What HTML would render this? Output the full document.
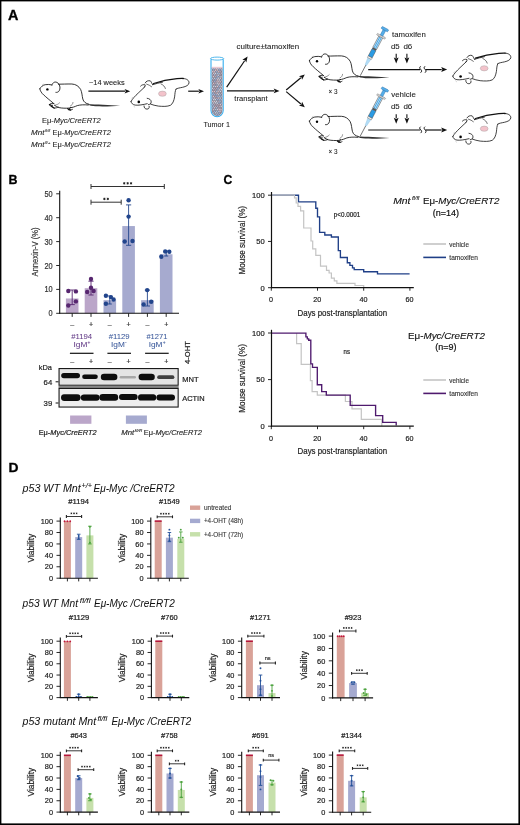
<!DOCTYPE html>
<html><head><meta charset="utf-8"><title>Figure</title>
<style>
html,body{margin:0;padding:0;background:#fff;width:520px;height:825px;overflow:hidden;}
svg{display:block;font-family:"Liberation Sans", sans-serif;opacity:0.999;font-variant-ligatures:none;}
</style></head><body>
<svg width="520" height="825" viewBox="0 0 520 825">
<defs><filter id="bl" x="-20%" y="-60%" width="140%" height="220%"><feGaussianBlur stdDeviation="0.55"/></filter></defs>
<rect x="0" y="0" width="520" height="825" fill="#fff"/>
<rect x="0.00" y="0.00" width="520.00" height="1.40" fill="#000"/>
<rect x="0.00" y="0.00" width="1.40" height="825.00" fill="#000"/>
<rect x="518.40" y="0.00" width="1.60" height="825.00" fill="#000"/>
<rect x="0.00" y="823.40" width="520.00" height="1.60" fill="#000"/>
<text x="8.10" y="19.80" font-size="14" fill="#000" stroke="#000" stroke-width="0.3" font-weight="bold" textLength="10.40" lengthAdjust="spacingAndGlyphs">A</text>
<text x="8.60" y="183.60" font-size="13.5" fill="#000" stroke="#000" stroke-width="0.3" font-weight="bold" textLength="9.00" lengthAdjust="spacingAndGlyphs">B</text>
<text x="223.40" y="183.50" font-size="13.5" fill="#000" stroke="#000" stroke-width="0.3" font-weight="bold" textLength="8.80" lengthAdjust="spacingAndGlyphs">C</text>
<text x="8.60" y="472.00" font-size="13.5" fill="#000" stroke="#000" stroke-width="0.3" font-weight="bold" textLength="10.00" lengthAdjust="spacingAndGlyphs">D</text>
<g transform="translate(39.80,88.80) scale(1.0)" fill="none" stroke="#111" stroke-width="0.85" stroke-linecap="round" stroke-linejoin="round">
<path d="M0,0 C1,-2 3,-3.6 5.4,-4.1 C7.5,-4.5 10,-4.4 12.2,-3.9"/>
<path d="M12.2,-3.6 C12.6,-6.6 15.8,-7.9 18.3,-5.6 C20.6,-3.6 20.6,0.2 19.4,2.0 C18.6,3.3 17.2,3.8 16.1,3.6" fill="#fff"/>
<path d="M18.6,-4.6 C22,-4.6 27,-4.9 32,-4.8 C36,-4.6 39,-2.6 40.8,0.6 C42.2,3.4 42.3,7.2 43.0,10.2 C43.8,13.2 46.0,14.8 49,15.4"/>
<path d="M47.5,15.4 C56,15.6 70,16.0 80.3,16.9 C74,17.5 64,17.8 56,17.5 C52,17.3 49.5,16.6 47.5,15.4 Z" fill="#333" stroke="none"/>
<path d="M48.5,16.2 C44,15.8 40.5,16.0 37.5,16.8 C35,17.8 33,18.8 30.5,18.9 M31.2,18.8 C29.8,19.2 28.2,19.9 29.0,21.0 C30.3,21.6 31.8,21.0 32.6,20.6"/>
<path d="M29.5,19.3 C26,19.6 22,19.4 19.2,18.8 C17.3,18.2 16,17.3 14.8,16.6"/>
<path d="M14.2,14.8 C12.4,14.4 10.6,14.6 9.6,15.8 C9.4,16.8 10.6,17.2 11.8,16.9 M12.6,16.4 C12.2,17.6 12.6,18.8 14.2,19.2 C15.8,19.4 17.2,18.8 18.4,18.4"/>
<path d="M19.8,14.0 C18.6,15.4 16.8,16.2 15.0,16.4" stroke-width="0.45"/>
<path d="M33.2,13.6 C33.0,15.3 32.0,16.6 30.6,17.2" stroke-width="0.45"/>
<path d="M0,0 C0.4,2.2 1.8,4.2 3.8,6.0 C6.5,8.6 10,11.4 13.6,14.4"/>
<path d="M9.6,15.6 l1.6,0.6 M11.4,17.4 l1.6,1.2 M13.2,18.4 l1.2,0.9 M27.8,19.8 l1.4,1.2 M29.6,20.4 l1.2,1.0" stroke-width="1.1"/>
</g>
<circle cx="47.40" cy="89.40" r="1.20" fill="#000"/>
<path d="M42.00,85.20 l1.8,-1.2 M41.40,93.00 l1.6,1.6" stroke="#999" stroke-width="0.5" fill="none"/>
<text x="41.90" y="122.50" font-size="7.2" fill="#222" stroke="#222" stroke-width="0.08" textLength="58.90" lengthAdjust="spacingAndGlyphs">Eμ-<tspan font-style="italic">Myc/CreERT2</tspan></text>
<text x="31.10" y="135.00" font-size="7.2" fill="#222" stroke="#222" stroke-width="0.08" font-style="italic" textLength="13.40" lengthAdjust="spacingAndGlyphs">Mnt</text>
<text x="44.90" y="131.98" font-size="4.4" fill="#222" stroke="#222" stroke-width="0.04" font-style="italic" textLength="5.40" lengthAdjust="spacingAndGlyphs">fl/fl</text>
<text x="52.60" y="135.00" font-size="7.2" fill="#222" stroke="#222" stroke-width="0.08" textLength="58.20" lengthAdjust="spacingAndGlyphs">Eμ-<tspan font-style="italic">Myc/CreERT2</tspan></text>
<text x="31.10" y="147.40" font-size="7.2" fill="#222" stroke="#222" stroke-width="0.08" font-style="italic" textLength="13.40" lengthAdjust="spacingAndGlyphs">Mnt</text>
<text x="44.90" y="144.38" font-size="4.4" fill="#222" stroke="#222" stroke-width="0.04" font-style="italic" textLength="5.40" lengthAdjust="spacingAndGlyphs">fl/+</text>
<text x="52.60" y="147.40" font-size="7.2" fill="#222" stroke="#222" stroke-width="0.08" textLength="58.20" lengthAdjust="spacingAndGlyphs">Eμ-<tspan font-style="italic">Myc/CreERT2</tspan></text>
<text x="89.00" y="85.30" font-size="6.4" fill="#222" stroke="#222" stroke-width="0.08" textLength="35.60" lengthAdjust="spacingAndGlyphs">~14 weeks</text>
<line x1="88.40" y1="91.20" x2="125.10" y2="91.20" stroke="#111" stroke-width="1.2"/>
<polygon points="130.20,91.20 124.60,93.50 125.80,91.20 124.60,88.90" fill="#111"/>
<g transform="translate(131.00,101.50) scale(1.0)" fill="none" stroke="#111" stroke-width="0.8" stroke-linecap="round" stroke-linejoin="round">
<path d="M0,0 C1.2,-2.4 4.2,-5.6 7.2,-8.4 C9.6,-10.6 12.0,-12.8 14.0,-14.8"/>
<path d="M9.6,-15.4 C10.6,-16.6 12.4,-17.2 14.2,-16.6 C14.4,-15.6 13.8,-14.8 13.0,-14.2"/>
<path d="M14.2,-18.6 C15.0,-20.4 17.2,-21.2 19.4,-20.6 C20.4,-19.6 20.6,-18.2 21.8,-16.8"/>
<path d="M15.6,-17.4 C17.4,-16.8 19.2,-16.0 20.6,-14.8" stroke-width="0.6"/>
<path d="M21.6,-16.8 C25,-17.8 28.4,-18.8 31.6,-19.4"/>
<path d="M22.6,-18.0 C30,-20.4 38,-22.0 46,-22.8 C48.5,-23.0 50.5,-23.1 52.3,-23.0" stroke-width="1.3"/>
<path d="M52.3,-23.0 C55.6,-22.8 58.2,-21.2 58.0,-18.6 C57.8,-16.4 55.2,-15.0 51.6,-14.2 C48.8,-13.6 46.4,-13.4 45.0,-12.4"/>
<path d="M45.0,-12.4 C44.0,-10.8 44.0,-7.6 43.6,-4.6 C43.0,-1.0 41.8,2.4 39.4,3.8 C36.4,5.2 31.6,5.0 27.4,4.6 C24.4,4.2 21.6,3.4 19.6,2.6"/>
<path d="M30.0,-17.6 C32.2,-16.6 33.8,-15.0 34.4,-13.0" stroke-width="0.6"/>
<path d="M0,0 C0.3,1.8 1.8,3.2 4.2,3.6 C7.6,4.0 12.0,3.2 16.2,2.2"/>
<path d="M16.2,-3.2 C18.4,-3.0 20.2,-1.6 20.2,0.4 C20.2,2.0 19.0,3.0 17.4,3.2"/>
<path d="M13.0,4.4 C13.0,6.4 14.2,7.6 16.0,7.6 C17.6,7.6 18.6,6.6 18.2,4.8"/>
</g>
<circle cx="138.80" cy="101.90" r="1.30" fill="#000"/>
<ellipse cx="162.40" cy="93.70" rx="3.90" ry="2.60" fill="#f3c3cb" stroke="#999" stroke-width="0.4"/>
<path d="M133.50,106.00 l1.6,1.4 M131.50,98.30 l1.6,-1.2" stroke="#aaa" stroke-width="0.5" fill="none"/>
<line x1="188.20" y1="91.20" x2="198.90" y2="91.20" stroke="#111" stroke-width="1.2"/>
<polygon points="204.00,91.20 198.40,93.50 199.60,91.20 198.40,88.90" fill="#111"/>
<path d="M211.0,59.2 L211.0,110.6 A6.1,6.1 0 0 0 223.2,110.6 L223.2,59.2" fill="#fff" stroke="#35aef0" stroke-width="1.1"/>
<path d="M211.8,67.2 L211.8,110.6 A5.3,5.3 0 0 0 222.4,110.6 L222.4,67.2 Z" fill="#958d99"/>
<circle cx="212.50" cy="68.34" r="0.85" fill="#a9c2ea" stroke="#5a5a66" stroke-width="0.25"/>
<circle cx="214.31" cy="68.39" r="0.85" fill="#a9c2ea" stroke="#5a5a66" stroke-width="0.25"/>
<circle cx="216.46" cy="68.56" r="0.85" fill="#f3d6de" stroke="#5a5a66" stroke-width="0.25"/>
<circle cx="218.25" cy="68.55" r="0.85" fill="#b9d3f2" stroke="#5a5a66" stroke-width="0.25"/>
<circle cx="220.22" cy="68.43" r="0.85" fill="#c9b6c8" stroke="#5a5a66" stroke-width="0.25"/>
<circle cx="213.64" cy="70.01" r="0.85" fill="#b9d3f2" stroke="#5a5a66" stroke-width="0.25"/>
<circle cx="215.62" cy="70.16" r="0.85" fill="#f3d6de" stroke="#5a5a66" stroke-width="0.25"/>
<circle cx="217.45" cy="69.88" r="0.85" fill="#f3d6de" stroke="#5a5a66" stroke-width="0.25"/>
<circle cx="219.30" cy="69.90" r="0.85" fill="#a9c2ea" stroke="#5a5a66" stroke-width="0.25"/>
<circle cx="221.34" cy="69.85" r="0.85" fill="#b9d3f2" stroke="#5a5a66" stroke-width="0.25"/>
<circle cx="212.78" cy="71.57" r="0.85" fill="#f3d6de" stroke="#5a5a66" stroke-width="0.25"/>
<circle cx="214.42" cy="71.88" r="0.85" fill="#f3d6de" stroke="#5a5a66" stroke-width="0.25"/>
<circle cx="216.55" cy="71.75" r="0.85" fill="#a9c2ea" stroke="#5a5a66" stroke-width="0.25"/>
<circle cx="218.48" cy="71.78" r="0.85" fill="#f3d6de" stroke="#5a5a66" stroke-width="0.25"/>
<circle cx="220.12" cy="71.64" r="0.85" fill="#c9b6c8" stroke="#5a5a66" stroke-width="0.25"/>
<circle cx="213.72" cy="73.26" r="0.85" fill="#f3d6de" stroke="#5a5a66" stroke-width="0.25"/>
<circle cx="215.37" cy="73.39" r="0.85" fill="#dfe6f6" stroke="#5a5a66" stroke-width="0.25"/>
<circle cx="217.39" cy="73.43" r="0.85" fill="#b9d3f2" stroke="#5a5a66" stroke-width="0.25"/>
<circle cx="219.17" cy="73.48" r="0.85" fill="#b9d3f2" stroke="#5a5a66" stroke-width="0.25"/>
<circle cx="221.23" cy="73.22" r="0.85" fill="#c9b6c8" stroke="#5a5a66" stroke-width="0.25"/>
<circle cx="212.68" cy="74.82" r="0.85" fill="#c9b6c8" stroke="#5a5a66" stroke-width="0.25"/>
<circle cx="214.68" cy="74.94" r="0.85" fill="#b9d3f2" stroke="#5a5a66" stroke-width="0.25"/>
<circle cx="216.21" cy="75.12" r="0.85" fill="#c9b6c8" stroke="#5a5a66" stroke-width="0.25"/>
<circle cx="218.25" cy="75.14" r="0.85" fill="#dfe6f6" stroke="#5a5a66" stroke-width="0.25"/>
<circle cx="220.02" cy="74.87" r="0.85" fill="#c9b6c8" stroke="#5a5a66" stroke-width="0.25"/>
<circle cx="213.40" cy="76.55" r="0.85" fill="#f3d6de" stroke="#5a5a66" stroke-width="0.25"/>
<circle cx="215.39" cy="76.59" r="0.85" fill="#c9b6c8" stroke="#5a5a66" stroke-width="0.25"/>
<circle cx="217.25" cy="76.64" r="0.85" fill="#a9c2ea" stroke="#5a5a66" stroke-width="0.25"/>
<circle cx="219.35" cy="76.77" r="0.85" fill="#a9c2ea" stroke="#5a5a66" stroke-width="0.25"/>
<circle cx="220.96" cy="76.83" r="0.85" fill="#dfe6f6" stroke="#5a5a66" stroke-width="0.25"/>
<circle cx="212.48" cy="78.31" r="0.85" fill="#b9d3f2" stroke="#5a5a66" stroke-width="0.25"/>
<circle cx="214.67" cy="78.24" r="0.85" fill="#dfe6f6" stroke="#5a5a66" stroke-width="0.25"/>
<circle cx="216.24" cy="78.37" r="0.85" fill="#a9c2ea" stroke="#5a5a66" stroke-width="0.25"/>
<circle cx="218.17" cy="78.13" r="0.85" fill="#dfe6f6" stroke="#5a5a66" stroke-width="0.25"/>
<circle cx="220.29" cy="78.22" r="0.85" fill="#f3d6de" stroke="#5a5a66" stroke-width="0.25"/>
<circle cx="213.41" cy="79.77" r="0.85" fill="#c9b6c8" stroke="#5a5a66" stroke-width="0.25"/>
<circle cx="215.46" cy="79.91" r="0.85" fill="#a9c2ea" stroke="#5a5a66" stroke-width="0.25"/>
<circle cx="217.45" cy="79.89" r="0.85" fill="#f3d6de" stroke="#5a5a66" stroke-width="0.25"/>
<circle cx="219.23" cy="79.92" r="0.85" fill="#dfe6f6" stroke="#5a5a66" stroke-width="0.25"/>
<circle cx="221.34" cy="80.01" r="0.85" fill="#b9d3f2" stroke="#5a5a66" stroke-width="0.25"/>
<circle cx="212.53" cy="81.48" r="0.85" fill="#c9b6c8" stroke="#5a5a66" stroke-width="0.25"/>
<circle cx="214.68" cy="81.65" r="0.85" fill="#a9c2ea" stroke="#5a5a66" stroke-width="0.25"/>
<circle cx="216.24" cy="81.57" r="0.85" fill="#c9b6c8" stroke="#5a5a66" stroke-width="0.25"/>
<circle cx="218.12" cy="81.57" r="0.85" fill="#f3d6de" stroke="#5a5a66" stroke-width="0.25"/>
<circle cx="220.18" cy="81.80" r="0.85" fill="#f3d6de" stroke="#5a5a66" stroke-width="0.25"/>
<circle cx="213.74" cy="83.23" r="0.85" fill="#f3d6de" stroke="#5a5a66" stroke-width="0.25"/>
<circle cx="215.53" cy="83.18" r="0.85" fill="#c9b6c8" stroke="#5a5a66" stroke-width="0.25"/>
<circle cx="217.27" cy="83.21" r="0.85" fill="#dfe6f6" stroke="#5a5a66" stroke-width="0.25"/>
<circle cx="219.10" cy="83.38" r="0.85" fill="#f3d6de" stroke="#5a5a66" stroke-width="0.25"/>
<circle cx="221.33" cy="83.30" r="0.85" fill="#a9c2ea" stroke="#5a5a66" stroke-width="0.25"/>
<circle cx="212.75" cy="84.77" r="0.85" fill="#c9b6c8" stroke="#5a5a66" stroke-width="0.25"/>
<circle cx="214.41" cy="85.01" r="0.85" fill="#c9b6c8" stroke="#5a5a66" stroke-width="0.25"/>
<circle cx="216.34" cy="85.01" r="0.85" fill="#a9c2ea" stroke="#5a5a66" stroke-width="0.25"/>
<circle cx="218.38" cy="84.97" r="0.85" fill="#dfe6f6" stroke="#5a5a66" stroke-width="0.25"/>
<circle cx="220.15" cy="84.98" r="0.85" fill="#dfe6f6" stroke="#5a5a66" stroke-width="0.25"/>
<circle cx="213.68" cy="86.46" r="0.85" fill="#dfe6f6" stroke="#5a5a66" stroke-width="0.25"/>
<circle cx="215.63" cy="86.49" r="0.85" fill="#dfe6f6" stroke="#5a5a66" stroke-width="0.25"/>
<circle cx="217.38" cy="86.35" r="0.85" fill="#f3d6de" stroke="#5a5a66" stroke-width="0.25"/>
<circle cx="219.36" cy="86.48" r="0.85" fill="#a9c2ea" stroke="#5a5a66" stroke-width="0.25"/>
<circle cx="221.14" cy="86.68" r="0.85" fill="#dfe6f6" stroke="#5a5a66" stroke-width="0.25"/>
<circle cx="212.54" cy="88.26" r="0.85" fill="#dfe6f6" stroke="#5a5a66" stroke-width="0.25"/>
<circle cx="214.44" cy="88.34" r="0.85" fill="#c9b6c8" stroke="#5a5a66" stroke-width="0.25"/>
<circle cx="216.59" cy="88.38" r="0.85" fill="#c9b6c8" stroke="#5a5a66" stroke-width="0.25"/>
<circle cx="218.16" cy="88.39" r="0.85" fill="#a9c2ea" stroke="#5a5a66" stroke-width="0.25"/>
<circle cx="220.33" cy="88.37" r="0.85" fill="#f3d6de" stroke="#5a5a66" stroke-width="0.25"/>
<circle cx="213.46" cy="89.68" r="0.85" fill="#c9b6c8" stroke="#5a5a66" stroke-width="0.25"/>
<circle cx="215.32" cy="89.96" r="0.85" fill="#c9b6c8" stroke="#5a5a66" stroke-width="0.25"/>
<circle cx="217.36" cy="90.02" r="0.85" fill="#a9c2ea" stroke="#5a5a66" stroke-width="0.25"/>
<circle cx="219.30" cy="89.96" r="0.85" fill="#dfe6f6" stroke="#5a5a66" stroke-width="0.25"/>
<circle cx="221.24" cy="89.66" r="0.85" fill="#dfe6f6" stroke="#5a5a66" stroke-width="0.25"/>
<circle cx="212.63" cy="91.55" r="0.85" fill="#f3d6de" stroke="#5a5a66" stroke-width="0.25"/>
<circle cx="214.39" cy="91.57" r="0.85" fill="#f3d6de" stroke="#5a5a66" stroke-width="0.25"/>
<circle cx="216.59" cy="91.69" r="0.85" fill="#b9d3f2" stroke="#5a5a66" stroke-width="0.25"/>
<circle cx="218.12" cy="91.35" r="0.85" fill="#f3d6de" stroke="#5a5a66" stroke-width="0.25"/>
<circle cx="220.39" cy="91.49" r="0.85" fill="#dfe6f6" stroke="#5a5a66" stroke-width="0.25"/>
<circle cx="213.36" cy="93.14" r="0.85" fill="#a9c2ea" stroke="#5a5a66" stroke-width="0.25"/>
<circle cx="215.52" cy="92.98" r="0.85" fill="#c9b6c8" stroke="#5a5a66" stroke-width="0.25"/>
<circle cx="217.25" cy="93.31" r="0.85" fill="#f3d6de" stroke="#5a5a66" stroke-width="0.25"/>
<circle cx="219.19" cy="93.33" r="0.85" fill="#b9d3f2" stroke="#5a5a66" stroke-width="0.25"/>
<circle cx="221.30" cy="93.23" r="0.85" fill="#c9b6c8" stroke="#5a5a66" stroke-width="0.25"/>
<circle cx="212.55" cy="94.61" r="0.85" fill="#a9c2ea" stroke="#5a5a66" stroke-width="0.25"/>
<circle cx="214.42" cy="94.72" r="0.85" fill="#a9c2ea" stroke="#5a5a66" stroke-width="0.25"/>
<circle cx="216.34" cy="94.83" r="0.85" fill="#a9c2ea" stroke="#5a5a66" stroke-width="0.25"/>
<circle cx="218.43" cy="94.77" r="0.85" fill="#dfe6f6" stroke="#5a5a66" stroke-width="0.25"/>
<circle cx="220.26" cy="94.75" r="0.85" fill="#a9c2ea" stroke="#5a5a66" stroke-width="0.25"/>
<circle cx="213.41" cy="96.40" r="0.85" fill="#f3d6de" stroke="#5a5a66" stroke-width="0.25"/>
<circle cx="215.63" cy="96.64" r="0.85" fill="#c9b6c8" stroke="#5a5a66" stroke-width="0.25"/>
<circle cx="217.19" cy="96.58" r="0.85" fill="#a9c2ea" stroke="#5a5a66" stroke-width="0.25"/>
<circle cx="219.20" cy="96.38" r="0.85" fill="#b9d3f2" stroke="#5a5a66" stroke-width="0.25"/>
<circle cx="221.17" cy="96.38" r="0.85" fill="#a9c2ea" stroke="#5a5a66" stroke-width="0.25"/>
<circle cx="212.55" cy="98.07" r="0.85" fill="#a9c2ea" stroke="#5a5a66" stroke-width="0.25"/>
<circle cx="214.50" cy="98.09" r="0.85" fill="#f3d6de" stroke="#5a5a66" stroke-width="0.25"/>
<circle cx="216.35" cy="98.24" r="0.85" fill="#c9b6c8" stroke="#5a5a66" stroke-width="0.25"/>
<circle cx="218.34" cy="98.00" r="0.85" fill="#f3d6de" stroke="#5a5a66" stroke-width="0.25"/>
<circle cx="220.20" cy="98.07" r="0.85" fill="#dfe6f6" stroke="#5a5a66" stroke-width="0.25"/>
<circle cx="213.73" cy="99.67" r="0.85" fill="#dfe6f6" stroke="#5a5a66" stroke-width="0.25"/>
<circle cx="215.31" cy="99.56" r="0.85" fill="#dfe6f6" stroke="#5a5a66" stroke-width="0.25"/>
<circle cx="217.53" cy="99.65" r="0.85" fill="#a9c2ea" stroke="#5a5a66" stroke-width="0.25"/>
<circle cx="219.36" cy="99.88" r="0.85" fill="#b9d3f2" stroke="#5a5a66" stroke-width="0.25"/>
<circle cx="221.14" cy="99.77" r="0.85" fill="#b9d3f2" stroke="#5a5a66" stroke-width="0.25"/>
<circle cx="212.77" cy="101.51" r="0.85" fill="#f3d6de" stroke="#5a5a66" stroke-width="0.25"/>
<circle cx="214.50" cy="101.54" r="0.85" fill="#f3d6de" stroke="#5a5a66" stroke-width="0.25"/>
<circle cx="216.32" cy="101.44" r="0.85" fill="#dfe6f6" stroke="#5a5a66" stroke-width="0.25"/>
<circle cx="218.31" cy="101.55" r="0.85" fill="#c9b6c8" stroke="#5a5a66" stroke-width="0.25"/>
<circle cx="220.01" cy="101.25" r="0.85" fill="#b9d3f2" stroke="#5a5a66" stroke-width="0.25"/>
<circle cx="213.56" cy="102.98" r="0.85" fill="#dfe6f6" stroke="#5a5a66" stroke-width="0.25"/>
<circle cx="215.54" cy="102.86" r="0.85" fill="#dfe6f6" stroke="#5a5a66" stroke-width="0.25"/>
<circle cx="217.29" cy="103.15" r="0.85" fill="#dfe6f6" stroke="#5a5a66" stroke-width="0.25"/>
<circle cx="219.10" cy="102.85" r="0.85" fill="#a9c2ea" stroke="#5a5a66" stroke-width="0.25"/>
<circle cx="221.13" cy="103.22" r="0.85" fill="#a9c2ea" stroke="#5a5a66" stroke-width="0.25"/>
<circle cx="212.48" cy="104.67" r="0.85" fill="#a9c2ea" stroke="#5a5a66" stroke-width="0.25"/>
<circle cx="214.54" cy="104.78" r="0.85" fill="#c9b6c8" stroke="#5a5a66" stroke-width="0.25"/>
<circle cx="216.54" cy="104.84" r="0.85" fill="#c9b6c8" stroke="#5a5a66" stroke-width="0.25"/>
<circle cx="218.26" cy="104.84" r="0.85" fill="#c9b6c8" stroke="#5a5a66" stroke-width="0.25"/>
<circle cx="220.36" cy="104.69" r="0.85" fill="#f3d6de" stroke="#5a5a66" stroke-width="0.25"/>
<circle cx="213.47" cy="106.15" r="0.85" fill="#b9d3f2" stroke="#5a5a66" stroke-width="0.25"/>
<circle cx="215.48" cy="106.41" r="0.85" fill="#c9b6c8" stroke="#5a5a66" stroke-width="0.25"/>
<circle cx="217.51" cy="106.21" r="0.85" fill="#c9b6c8" stroke="#5a5a66" stroke-width="0.25"/>
<circle cx="219.33" cy="106.51" r="0.85" fill="#c9b6c8" stroke="#5a5a66" stroke-width="0.25"/>
<circle cx="221.17" cy="106.32" r="0.85" fill="#dfe6f6" stroke="#5a5a66" stroke-width="0.25"/>
<circle cx="212.72" cy="107.83" r="0.85" fill="#a9c2ea" stroke="#5a5a66" stroke-width="0.25"/>
<circle cx="214.41" cy="107.83" r="0.85" fill="#f3d6de" stroke="#5a5a66" stroke-width="0.25"/>
<circle cx="216.47" cy="107.81" r="0.85" fill="#b9d3f2" stroke="#5a5a66" stroke-width="0.25"/>
<circle cx="218.49" cy="108.20" r="0.85" fill="#c9b6c8" stroke="#5a5a66" stroke-width="0.25"/>
<circle cx="220.02" cy="108.14" r="0.85" fill="#c9b6c8" stroke="#5a5a66" stroke-width="0.25"/>
<circle cx="213.60" cy="109.78" r="0.85" fill="#f3d6de" stroke="#5a5a66" stroke-width="0.25"/>
<circle cx="215.53" cy="109.50" r="0.85" fill="#b9d3f2" stroke="#5a5a66" stroke-width="0.25"/>
<circle cx="217.43" cy="109.63" r="0.85" fill="#dfe6f6" stroke="#5a5a66" stroke-width="0.25"/>
<circle cx="219.29" cy="109.62" r="0.85" fill="#f3d6de" stroke="#5a5a66" stroke-width="0.25"/>
<circle cx="220.98" cy="109.54" r="0.85" fill="#f3d6de" stroke="#5a5a66" stroke-width="0.25"/>
<circle cx="214.34" cy="111.25" r="0.85" fill="#a9c2ea" stroke="#5a5a66" stroke-width="0.25"/>
<circle cx="216.31" cy="111.33" r="0.85" fill="#b9d3f2" stroke="#5a5a66" stroke-width="0.25"/>
<circle cx="218.40" cy="111.45" r="0.85" fill="#b9d3f2" stroke="#5a5a66" stroke-width="0.25"/>
<circle cx="220.00" cy="111.14" r="0.85" fill="#f3d6de" stroke="#5a5a66" stroke-width="0.25"/>
<circle cx="213.55" cy="112.89" r="0.85" fill="#a9c2ea" stroke="#5a5a66" stroke-width="0.25"/>
<circle cx="215.62" cy="112.81" r="0.85" fill="#dfe6f6" stroke="#5a5a66" stroke-width="0.25"/>
<circle cx="217.21" cy="113.00" r="0.85" fill="#dfe6f6" stroke="#5a5a66" stroke-width="0.25"/>
<circle cx="219.17" cy="113.13" r="0.85" fill="#a9c2ea" stroke="#5a5a66" stroke-width="0.25"/>
<circle cx="216.45" cy="114.51" r="0.85" fill="#a9c2ea" stroke="#5a5a66" stroke-width="0.25"/>
<circle cx="218.19" cy="114.73" r="0.85" fill="#a9c2ea" stroke="#5a5a66" stroke-width="0.25"/>
<rect x="211.80" y="66.80" width="10.60" height="1.60" fill="#e9c9d2"/>
<ellipse cx="217.1" cy="58.6" rx="6.6" ry="1.5" fill="#fff" stroke="#3fb0ea" stroke-width="0.9"/>
<text x="203.40" y="126.50" font-size="7.8" fill="#222" stroke="#222" stroke-width="0.08" textLength="26.60" lengthAdjust="spacingAndGlyphs">Tumor 1</text>
<line x1="226.70" y1="87.10" x2="244.62" y2="60.78" stroke="#111" stroke-width="1.2"/>
<polygon points="247.60,56.40 246.32,62.55 245.01,60.20 242.35,59.84" fill="#111"/>
<text x="236.60" y="49.10" font-size="7.5" fill="#222" stroke="#222" stroke-width="0.08" textLength="62.60" lengthAdjust="spacingAndGlyphs">culture±tamoxifen</text>
<line x1="227.00" y1="90.90" x2="274.20" y2="90.90" stroke="#111" stroke-width="1.2"/>
<polygon points="279.50,90.90 273.70,93.30 274.90,90.90 273.70,88.50" fill="#111"/>
<text x="234.30" y="100.90" font-size="7.4" fill="#222" stroke="#222" stroke-width="0.08" textLength="33.40" lengthAdjust="spacingAndGlyphs">transplant</text>
<line x1="286.20" y1="90.00" x2="300.89" y2="77.68" stroke="#111" stroke-width="1.2"/>
<polygon points="304.80,74.40 302.05,79.84 301.43,77.23 298.97,76.16" fill="#111"/>
<line x1="286.20" y1="91.60" x2="300.90" y2="104.01" stroke="#111" stroke-width="1.2"/>
<polygon points="304.80,107.30 298.97,105.52 301.44,104.46 302.07,101.85" fill="#111"/>
<g transform="translate(309.40,60.70) scale(1.0)" fill="none" stroke="#111" stroke-width="0.85" stroke-linecap="round" stroke-linejoin="round">
<path d="M0,0 C1,-2 3,-3.6 5.4,-4.1 C7.5,-4.5 10,-4.4 12.2,-3.9"/>
<path d="M12.2,-3.6 C12.6,-6.6 15.8,-7.9 18.3,-5.6 C20.6,-3.6 20.6,0.2 19.4,2.0 C18.6,3.3 17.2,3.8 16.1,3.6" fill="#fff"/>
<path d="M18.6,-4.6 C22,-4.6 27,-4.9 32,-4.8 C36,-4.6 39,-2.6 40.8,0.6 C42.2,3.4 42.3,7.2 43.0,10.2 C43.8,13.2 46.0,14.8 49,15.4"/>
<path d="M47.5,15.4 C56,15.6 70,16.0 80.3,16.9 C74,17.5 64,17.8 56,17.5 C52,17.3 49.5,16.6 47.5,15.4 Z" fill="#333" stroke="none"/>
<path d="M48.5,16.2 C44,15.8 40.5,16.0 37.5,16.8 C35,17.8 33,18.8 30.5,18.9 M31.2,18.8 C29.8,19.2 28.2,19.9 29.0,21.0 C30.3,21.6 31.8,21.0 32.6,20.6"/>
<path d="M29.5,19.3 C26,19.6 22,19.4 19.2,18.8 C17.3,18.2 16,17.3 14.8,16.6"/>
<path d="M14.2,14.8 C12.4,14.4 10.6,14.6 9.6,15.8 C9.4,16.8 10.6,17.2 11.8,16.9 M12.6,16.4 C12.2,17.6 12.6,18.8 14.2,19.2 C15.8,19.4 17.2,18.8 18.4,18.4"/>
<path d="M19.8,14.0 C18.6,15.4 16.8,16.2 15.0,16.4" stroke-width="0.45"/>
<path d="M33.2,13.6 C33.0,15.3 32.0,16.6 30.6,17.2" stroke-width="0.45"/>
<path d="M0,0 C0.4,2.2 1.8,4.2 3.8,6.0 C6.5,8.6 10,11.4 13.6,14.4"/>
<path d="M9.6,15.6 l1.6,0.6 M11.4,17.4 l1.6,1.2 M13.2,18.4 l1.2,0.9 M27.8,19.8 l1.4,1.2 M29.6,20.4 l1.2,1.0" stroke-width="1.1"/>
</g>
<circle cx="317.00" cy="61.30" r="1.20" fill="#000"/>
<path d="M311.60,57.10 l1.8,-1.2 M311.00,64.90 l1.6,1.6" stroke="#999" stroke-width="0.5" fill="none"/>
<text x="328.50" y="93.60" font-size="7.0" fill="#222" stroke="#222" stroke-width="0.08" textLength="9.00" lengthAdjust="spacingAndGlyphs">× 3</text>
<g transform="translate(360.20,75.80) rotate(-62.1)">
<line x1="0" y1="0" x2="12.2" y2="0" stroke="#333" stroke-width="0.6"/>
<polygon points="12,-0.8 19.8,-1.8 19.8,1.8 12,0.8" fill="#b3ddf6" stroke="#7fb6dc" stroke-width="0.3"/>
<rect x="19.6" y="-2.2" width="2.0" height="4.4" fill="#f2f2f2" stroke="#666" stroke-width="0.4"/>
<rect x="21.6" y="-2.2" width="7.8" height="4.4" fill="#2b9be3" stroke="#444" stroke-width="0.4"/>
<rect x="29.4" y="-2.2" width="1.8" height="4.4" fill="#555"/>
<rect x="31.2" y="-2.2" width="12.6" height="4.4" fill="#c4e4f8" stroke="#444" stroke-width="0.45"/>
<line x1="31.2" y1="-0.8" x2="43.8" y2="-0.8" stroke="#3a9de0" stroke-width="0.8"/>
<line x1="31.2" y1="0.8" x2="43.8" y2="0.8" stroke="#3a9de0" stroke-width="0.8"/>
<rect x="43.8" y="-4.8" width="1.8" height="9.6" rx="0.8" fill="#d0d0d0" stroke="#777" stroke-width="0.4"/>
<rect x="45.6" y="-1.4" width="6.2" height="2.8" fill="#55aee9" stroke="#2a6ea8" stroke-width="0.4"/>
<rect x="51.6" y="-3.8" width="2.4" height="7.6" rx="1" fill="#55aee9" stroke="#2a6ea8" stroke-width="0.45"/>
</g>
<line x1="368.20" y1="69.60" x2="420.20" y2="69.60" stroke="#111" stroke-width="1.2"/>
<path d="M420.60,66.30 C419.30,67.30 419.50,68.40 420.80,69.50 C422.00,70.60 421.80,71.70 420.60,72.70" stroke="#111" stroke-width="1.0" fill="none"/>
<path d="M425.00,66.30 C423.70,67.30 423.90,68.40 425.20,69.50 C426.40,70.60 426.20,71.70 425.00,72.70" stroke="#111" stroke-width="1.0" fill="none"/>
<line x1="425.40" y1="69.60" x2="441.70" y2="69.60" stroke="#111" stroke-width="1.2"/>
<polygon points="447.20,69.60 441.20,72.10 442.40,69.60 441.20,67.10" fill="#111"/>
<text x="391.00" y="48.60" font-size="7.4" fill="#222" stroke="#222" stroke-width="0.08" textLength="8.70" lengthAdjust="spacingAndGlyphs">d5</text>
<text x="403.40" y="48.60" font-size="7.4" fill="#222" stroke="#222" stroke-width="0.08" textLength="8.90" lengthAdjust="spacingAndGlyphs">d6</text>
<line x1="396.20" y1="53.80" x2="396.20" y2="57.90" stroke="#111" stroke-width="1.1"/>
<polygon points="396.20,63.40 393.80,57.40 396.20,58.60 398.60,57.40" fill="#111"/>
<line x1="406.90" y1="53.80" x2="406.90" y2="57.90" stroke="#111" stroke-width="1.1"/>
<polygon points="406.90,63.40 404.50,57.40 406.90,58.60 409.30,57.40" fill="#111"/>
<g transform="translate(452.80,76.10) scale(1.0)" fill="none" stroke="#111" stroke-width="0.8" stroke-linecap="round" stroke-linejoin="round">
<path d="M0,0 C1.2,-2.4 4.2,-5.6 7.2,-8.4 C9.6,-10.6 12.0,-12.8 14.0,-14.8"/>
<path d="M9.6,-15.4 C10.6,-16.6 12.4,-17.2 14.2,-16.6 C14.4,-15.6 13.8,-14.8 13.0,-14.2"/>
<path d="M14.2,-18.6 C15.0,-20.4 17.2,-21.2 19.4,-20.6 C20.4,-19.6 20.6,-18.2 21.8,-16.8"/>
<path d="M15.6,-17.4 C17.4,-16.8 19.2,-16.0 20.6,-14.8" stroke-width="0.6"/>
<path d="M21.6,-16.8 C25,-17.8 28.4,-18.8 31.6,-19.4"/>
<path d="M22.6,-18.0 C30,-20.4 38,-22.0 46,-22.8 C48.5,-23.0 50.5,-23.1 52.3,-23.0" stroke-width="1.3"/>
<path d="M52.3,-23.0 C55.6,-22.8 58.2,-21.2 58.0,-18.6 C57.8,-16.4 55.2,-15.0 51.6,-14.2 C48.8,-13.6 46.4,-13.4 45.0,-12.4"/>
<path d="M45.0,-12.4 C44.0,-10.8 44.0,-7.6 43.6,-4.6 C43.0,-1.0 41.8,2.4 39.4,3.8 C36.4,5.2 31.6,5.0 27.4,4.6 C24.4,4.2 21.6,3.4 19.6,2.6"/>
<path d="M30.0,-17.6 C32.2,-16.6 33.8,-15.0 34.4,-13.0" stroke-width="0.6"/>
<path d="M0,0 C0.3,1.8 1.8,3.2 4.2,3.6 C7.6,4.0 12.0,3.2 16.2,2.2"/>
<path d="M16.2,-3.2 C18.4,-3.0 20.2,-1.6 20.2,0.4 C20.2,2.0 19.0,3.0 17.4,3.2"/>
<path d="M13.0,4.4 C13.0,6.4 14.2,7.6 16.0,7.6 C17.6,7.6 18.6,6.6 18.2,4.8"/>
</g>
<circle cx="460.60" cy="76.50" r="1.30" fill="#000"/>
<ellipse cx="484.20" cy="68.30" rx="3.90" ry="2.60" fill="#f3c3cb" stroke="#999" stroke-width="0.4"/>
<path d="M455.30,80.60 l1.6,1.4 M453.30,72.90 l1.6,-1.2" stroke="#aaa" stroke-width="0.5" fill="none"/>
<g transform="translate(309.40,121.10) scale(1.0)" fill="none" stroke="#111" stroke-width="0.85" stroke-linecap="round" stroke-linejoin="round">
<path d="M0,0 C1,-2 3,-3.6 5.4,-4.1 C7.5,-4.5 10,-4.4 12.2,-3.9"/>
<path d="M12.2,-3.6 C12.6,-6.6 15.8,-7.9 18.3,-5.6 C20.6,-3.6 20.6,0.2 19.4,2.0 C18.6,3.3 17.2,3.8 16.1,3.6" fill="#fff"/>
<path d="M18.6,-4.6 C22,-4.6 27,-4.9 32,-4.8 C36,-4.6 39,-2.6 40.8,0.6 C42.2,3.4 42.3,7.2 43.0,10.2 C43.8,13.2 46.0,14.8 49,15.4"/>
<path d="M47.5,15.4 C56,15.6 70,16.0 80.3,16.9 C74,17.5 64,17.8 56,17.5 C52,17.3 49.5,16.6 47.5,15.4 Z" fill="#333" stroke="none"/>
<path d="M48.5,16.2 C44,15.8 40.5,16.0 37.5,16.8 C35,17.8 33,18.8 30.5,18.9 M31.2,18.8 C29.8,19.2 28.2,19.9 29.0,21.0 C30.3,21.6 31.8,21.0 32.6,20.6"/>
<path d="M29.5,19.3 C26,19.6 22,19.4 19.2,18.8 C17.3,18.2 16,17.3 14.8,16.6"/>
<path d="M14.2,14.8 C12.4,14.4 10.6,14.6 9.6,15.8 C9.4,16.8 10.6,17.2 11.8,16.9 M12.6,16.4 C12.2,17.6 12.6,18.8 14.2,19.2 C15.8,19.4 17.2,18.8 18.4,18.4"/>
<path d="M19.8,14.0 C18.6,15.4 16.8,16.2 15.0,16.4" stroke-width="0.45"/>
<path d="M33.2,13.6 C33.0,15.3 32.0,16.6 30.6,17.2" stroke-width="0.45"/>
<path d="M0,0 C0.4,2.2 1.8,4.2 3.8,6.0 C6.5,8.6 10,11.4 13.6,14.4"/>
<path d="M9.6,15.6 l1.6,0.6 M11.4,17.4 l1.6,1.2 M13.2,18.4 l1.2,0.9 M27.8,19.8 l1.4,1.2 M29.6,20.4 l1.2,1.0" stroke-width="1.1"/>
</g>
<circle cx="317.00" cy="121.70" r="1.20" fill="#000"/>
<path d="M311.60,117.50 l1.8,-1.2 M311.00,125.30 l1.6,1.6" stroke="#999" stroke-width="0.5" fill="none"/>
<text x="328.50" y="154.00" font-size="7.0" fill="#222" stroke="#222" stroke-width="0.08" textLength="9.00" lengthAdjust="spacingAndGlyphs">× 3</text>
<g transform="translate(360.20,136.20) rotate(-62.1)">
<line x1="0" y1="0" x2="12.2" y2="0" stroke="#333" stroke-width="0.6"/>
<polygon points="12,-0.8 19.8,-1.8 19.8,1.8 12,0.8" fill="#b3ddf6" stroke="#7fb6dc" stroke-width="0.3"/>
<rect x="19.6" y="-2.2" width="2.0" height="4.4" fill="#f2f2f2" stroke="#666" stroke-width="0.4"/>
<rect x="21.6" y="-2.2" width="7.8" height="4.4" fill="#2b9be3" stroke="#444" stroke-width="0.4"/>
<rect x="29.4" y="-2.2" width="1.8" height="4.4" fill="#555"/>
<rect x="31.2" y="-2.2" width="12.6" height="4.4" fill="#c4e4f8" stroke="#444" stroke-width="0.45"/>
<line x1="31.2" y1="-0.8" x2="43.8" y2="-0.8" stroke="#3a9de0" stroke-width="0.8"/>
<line x1="31.2" y1="0.8" x2="43.8" y2="0.8" stroke="#3a9de0" stroke-width="0.8"/>
<rect x="43.8" y="-4.8" width="1.8" height="9.6" rx="0.8" fill="#d0d0d0" stroke="#777" stroke-width="0.4"/>
<rect x="45.6" y="-1.4" width="6.2" height="2.8" fill="#55aee9" stroke="#2a6ea8" stroke-width="0.4"/>
<rect x="51.6" y="-3.8" width="2.4" height="7.6" rx="1" fill="#55aee9" stroke="#2a6ea8" stroke-width="0.45"/>
</g>
<line x1="368.20" y1="130.00" x2="420.20" y2="130.00" stroke="#111" stroke-width="1.2"/>
<path d="M420.60,126.70 C419.30,127.70 419.50,128.80 420.80,129.90 C422.00,131.00 421.80,132.10 420.60,133.10" stroke="#111" stroke-width="1.0" fill="none"/>
<path d="M425.00,126.70 C423.70,127.70 423.90,128.80 425.20,129.90 C426.40,131.00 426.20,132.10 425.00,133.10" stroke="#111" stroke-width="1.0" fill="none"/>
<line x1="425.40" y1="130.00" x2="441.70" y2="130.00" stroke="#111" stroke-width="1.2"/>
<polygon points="447.20,130.00 441.20,132.50 442.40,130.00 441.20,127.50" fill="#111"/>
<text x="391.00" y="109.00" font-size="7.4" fill="#222" stroke="#222" stroke-width="0.08" textLength="8.70" lengthAdjust="spacingAndGlyphs">d5</text>
<text x="403.40" y="109.00" font-size="7.4" fill="#222" stroke="#222" stroke-width="0.08" textLength="8.90" lengthAdjust="spacingAndGlyphs">d6</text>
<line x1="396.20" y1="114.20" x2="396.20" y2="118.30" stroke="#111" stroke-width="1.1"/>
<polygon points="396.20,123.80 393.80,117.80 396.20,119.00 398.60,117.80" fill="#111"/>
<line x1="406.90" y1="114.20" x2="406.90" y2="118.30" stroke="#111" stroke-width="1.1"/>
<polygon points="406.90,123.80 404.50,117.80 406.90,119.00 409.30,117.80" fill="#111"/>
<g transform="translate(452.80,136.50) scale(1.0)" fill="none" stroke="#111" stroke-width="0.8" stroke-linecap="round" stroke-linejoin="round">
<path d="M0,0 C1.2,-2.4 4.2,-5.6 7.2,-8.4 C9.6,-10.6 12.0,-12.8 14.0,-14.8"/>
<path d="M9.6,-15.4 C10.6,-16.6 12.4,-17.2 14.2,-16.6 C14.4,-15.6 13.8,-14.8 13.0,-14.2"/>
<path d="M14.2,-18.6 C15.0,-20.4 17.2,-21.2 19.4,-20.6 C20.4,-19.6 20.6,-18.2 21.8,-16.8"/>
<path d="M15.6,-17.4 C17.4,-16.8 19.2,-16.0 20.6,-14.8" stroke-width="0.6"/>
<path d="M21.6,-16.8 C25,-17.8 28.4,-18.8 31.6,-19.4"/>
<path d="M22.6,-18.0 C30,-20.4 38,-22.0 46,-22.8 C48.5,-23.0 50.5,-23.1 52.3,-23.0" stroke-width="1.3"/>
<path d="M52.3,-23.0 C55.6,-22.8 58.2,-21.2 58.0,-18.6 C57.8,-16.4 55.2,-15.0 51.6,-14.2 C48.8,-13.6 46.4,-13.4 45.0,-12.4"/>
<path d="M45.0,-12.4 C44.0,-10.8 44.0,-7.6 43.6,-4.6 C43.0,-1.0 41.8,2.4 39.4,3.8 C36.4,5.2 31.6,5.0 27.4,4.6 C24.4,4.2 21.6,3.4 19.6,2.6"/>
<path d="M30.0,-17.6 C32.2,-16.6 33.8,-15.0 34.4,-13.0" stroke-width="0.6"/>
<path d="M0,0 C0.3,1.8 1.8,3.2 4.2,3.6 C7.6,4.0 12.0,3.2 16.2,2.2"/>
<path d="M16.2,-3.2 C18.4,-3.0 20.2,-1.6 20.2,0.4 C20.2,2.0 19.0,3.0 17.4,3.2"/>
<path d="M13.0,4.4 C13.0,6.4 14.2,7.6 16.0,7.6 C17.6,7.6 18.6,6.6 18.2,4.8"/>
</g>
<circle cx="460.60" cy="136.90" r="1.30" fill="#000"/>
<ellipse cx="484.20" cy="128.70" rx="3.90" ry="2.60" fill="#f3c3cb" stroke="#999" stroke-width="0.4"/>
<path d="M455.30,141.00 l1.6,1.4 M453.30,133.30 l1.6,-1.2" stroke="#aaa" stroke-width="0.5" fill="none"/>
<text x="392.00" y="36.80" font-size="7.2" fill="#222" stroke="#222" stroke-width="0.08" textLength="33.80" lengthAdjust="spacingAndGlyphs">tamoxifen</text>
<text x="391.20" y="97.40" font-size="7.2" fill="#222" stroke="#222" stroke-width="0.08" textLength="24.60" lengthAdjust="spacingAndGlyphs">vehicle</text>
<rect x="65.90" y="298.48" width="12.60" height="14.82" fill="#bba6c9"/>
<rect x="84.70" y="288.20" width="12.60" height="25.10" fill="#bba6c9"/>
<rect x="103.50" y="300.16" width="12.60" height="13.15" fill="#a6aacf"/>
<rect x="122.30" y="226.06" width="12.60" height="87.23" fill="#a6aacf"/>
<rect x="141.10" y="300.16" width="12.60" height="13.15" fill="#a6aacf"/>
<rect x="159.90" y="254.27" width="12.60" height="59.03" fill="#a6aacf"/>
<line x1="72.20" y1="290.00" x2="72.20" y2="304.60" stroke="#57266f" stroke-width="0.9"/>
<line x1="69.60" y1="290.00" x2="74.80" y2="290.00" stroke="#57266f" stroke-width="0.9"/>
<line x1="69.60" y1="304.60" x2="74.80" y2="304.60" stroke="#57266f" stroke-width="0.9"/>
<circle cx="68.30" cy="291.00" r="2.20" fill="#57266f"/>
<circle cx="75.90" cy="291.40" r="2.20" fill="#57266f"/>
<circle cx="75.90" cy="301.40" r="2.20" fill="#57266f"/>
<circle cx="68.30" cy="305.50" r="2.20" fill="#57266f"/>
<line x1="91.00" y1="281.20" x2="91.00" y2="295.00" stroke="#57266f" stroke-width="0.9"/>
<line x1="88.40" y1="281.20" x2="93.60" y2="281.20" stroke="#57266f" stroke-width="0.9"/>
<line x1="88.40" y1="295.00" x2="93.60" y2="295.00" stroke="#57266f" stroke-width="0.9"/>
<circle cx="91.00" cy="279.00" r="2.20" fill="#57266f"/>
<circle cx="91.00" cy="287.70" r="2.20" fill="#57266f"/>
<circle cx="87.20" cy="292.00" r="2.20" fill="#57266f"/>
<circle cx="93.60" cy="291.00" r="2.20" fill="#57266f"/>
<line x1="109.80" y1="296.00" x2="109.80" y2="304.00" stroke="#22458c" stroke-width="0.9"/>
<line x1="107.80" y1="296.00" x2="111.80" y2="296.00" stroke="#22458c" stroke-width="0.9"/>
<line x1="107.80" y1="304.00" x2="111.80" y2="304.00" stroke="#22458c" stroke-width="0.9"/>
<circle cx="105.90" cy="295.80" r="2.20" fill="#22458c"/>
<circle cx="110.90" cy="297.10" r="2.20" fill="#22458c"/>
<circle cx="113.60" cy="299.50" r="2.20" fill="#22458c"/>
<circle cx="105.90" cy="303.80" r="2.20" fill="#22458c"/>
<line x1="128.60" y1="204.90" x2="128.60" y2="245.30" stroke="#22458c" stroke-width="0.9"/>
<line x1="126.00" y1="204.90" x2="131.20" y2="204.90" stroke="#22458c" stroke-width="0.9"/>
<line x1="126.00" y1="245.30" x2="131.20" y2="245.30" stroke="#22458c" stroke-width="0.9"/>
<circle cx="128.60" cy="200.20" r="2.20" fill="#22458c"/>
<circle cx="128.60" cy="216.60" r="2.20" fill="#22458c"/>
<circle cx="124.70" cy="241.50" r="2.20" fill="#22458c"/>
<circle cx="132.50" cy="241.00" r="2.20" fill="#22458c"/>
<line x1="147.40" y1="290.10" x2="147.40" y2="306.00" stroke="#22458c" stroke-width="0.9"/>
<line x1="144.80" y1="290.10" x2="150.00" y2="290.10" stroke="#22458c" stroke-width="0.9"/>
<line x1="144.80" y1="306.00" x2="150.00" y2="306.00" stroke="#22458c" stroke-width="0.9"/>
<circle cx="147.20" cy="290.10" r="2.20" fill="#22458c"/>
<circle cx="143.60" cy="304.50" r="2.20" fill="#22458c"/>
<circle cx="151.20" cy="301.80" r="2.20" fill="#22458c"/>
<line x1="166.20" y1="251.00" x2="166.20" y2="256.00" stroke="#22458c" stroke-width="0.9"/>
<line x1="164.20" y1="251.00" x2="168.20" y2="251.00" stroke="#22458c" stroke-width="0.9"/>
<line x1="164.20" y1="256.00" x2="168.20" y2="256.00" stroke="#22458c" stroke-width="0.9"/>
<circle cx="161.30" cy="256.80" r="2.20" fill="#22458c"/>
<circle cx="165.20" cy="251.50" r="2.20" fill="#22458c"/>
<circle cx="169.30" cy="251.70" r="2.20" fill="#22458c"/>
<line x1="59.70" y1="190.80" x2="59.70" y2="313.80" stroke="#111" stroke-width="1.1"/>
<line x1="59.20" y1="313.30" x2="179.00" y2="313.30" stroke="#111" stroke-width="1.1"/>
<line x1="56.20" y1="313.30" x2="59.70" y2="313.30" stroke="#111" stroke-width="0.9"/>
<text x="52.60" y="316.30" font-size="8.6" fill="#333" stroke="#333" stroke-width="0.2" text-anchor="end" textLength="4.10" lengthAdjust="spacingAndGlyphs">0</text>
<line x1="56.20" y1="289.40" x2="59.70" y2="289.40" stroke="#111" stroke-width="0.9"/>
<text x="52.60" y="292.40" font-size="8.6" fill="#333" stroke="#333" stroke-width="0.2" text-anchor="end" textLength="8.20" lengthAdjust="spacingAndGlyphs">10</text>
<line x1="56.20" y1="265.50" x2="59.70" y2="265.50" stroke="#111" stroke-width="0.9"/>
<text x="52.60" y="268.50" font-size="8.6" fill="#333" stroke="#333" stroke-width="0.2" text-anchor="end" textLength="8.20" lengthAdjust="spacingAndGlyphs">20</text>
<line x1="56.20" y1="241.60" x2="59.70" y2="241.60" stroke="#111" stroke-width="0.9"/>
<text x="52.60" y="244.60" font-size="8.6" fill="#333" stroke="#333" stroke-width="0.2" text-anchor="end" textLength="8.20" lengthAdjust="spacingAndGlyphs">30</text>
<line x1="56.20" y1="217.70" x2="59.70" y2="217.70" stroke="#111" stroke-width="0.9"/>
<text x="52.60" y="220.70" font-size="8.6" fill="#333" stroke="#333" stroke-width="0.2" text-anchor="end" textLength="8.20" lengthAdjust="spacingAndGlyphs">40</text>
<line x1="56.20" y1="193.80" x2="59.70" y2="193.80" stroke="#111" stroke-width="0.9"/>
<text x="52.60" y="196.80" font-size="8.6" fill="#333" stroke="#333" stroke-width="0.2" text-anchor="end" textLength="8.20" lengthAdjust="spacingAndGlyphs">50</text>
<line x1="72.20" y1="313.30" x2="72.20" y2="316.90" stroke="#111" stroke-width="0.9"/>
<line x1="91.00" y1="313.30" x2="91.00" y2="316.90" stroke="#111" stroke-width="0.9"/>
<line x1="109.80" y1="313.30" x2="109.80" y2="316.90" stroke="#111" stroke-width="0.9"/>
<line x1="128.60" y1="313.30" x2="128.60" y2="316.90" stroke="#111" stroke-width="0.9"/>
<line x1="147.40" y1="313.30" x2="147.40" y2="316.90" stroke="#111" stroke-width="0.9"/>
<line x1="166.20" y1="313.30" x2="166.20" y2="316.90" stroke="#111" stroke-width="0.9"/>
<text transform="translate(38.4,252) rotate(-90)" font-size="9.6" fill="#333" stroke="#333" stroke-width="0.2" text-anchor="middle" textLength="48.8" lengthAdjust="spacingAndGlyphs">Annexin-V (%)</text>
<line x1="91.00" y1="186.50" x2="164.30" y2="186.50" stroke="#333" stroke-width="1.0"/>
<line x1="91.00" y1="184.00" x2="91.00" y2="189.00" stroke="#333" stroke-width="1.0"/>
<line x1="164.30" y1="184.00" x2="164.30" y2="189.00" stroke="#333" stroke-width="1.0"/>
<circle cx="124.25" cy="183.30" r="0.85" fill="#222"/>
<path d="M124.25,182.03 v2.55 M123.14,182.66 l2.21,1.27 M123.14,183.94 l2.21,-1.27" stroke="#222" stroke-width="0.59" fill="none"/>
<circle cx="127.65" cy="183.30" r="0.85" fill="#222"/>
<path d="M127.65,182.03 v2.55 M126.55,182.66 l2.21,1.27 M126.55,183.94 l2.21,-1.27" stroke="#222" stroke-width="0.59" fill="none"/>
<circle cx="131.05" cy="183.30" r="0.85" fill="#222"/>
<path d="M131.05,182.03 v2.55 M129.95,182.66 l2.21,1.27 M129.95,183.94 l2.21,-1.27" stroke="#222" stroke-width="0.59" fill="none"/>
<line x1="91.00" y1="202.20" x2="121.20" y2="202.20" stroke="#333" stroke-width="1.0"/>
<line x1="91.00" y1="199.70" x2="91.00" y2="204.70" stroke="#333" stroke-width="1.0"/>
<line x1="121.20" y1="199.70" x2="121.20" y2="204.70" stroke="#333" stroke-width="1.0"/>
<circle cx="104.40" cy="198.90" r="0.85" fill="#222"/>
<path d="M104.40,197.62 v2.55 M103.29,198.26 l2.21,1.27 M103.29,199.54 l2.21,-1.27" stroke="#222" stroke-width="0.59" fill="none"/>
<circle cx="107.80" cy="198.90" r="0.85" fill="#222"/>
<path d="M107.80,197.62 v2.55 M106.69,198.26 l2.21,1.27 M106.69,199.54 l2.21,-1.27" stroke="#222" stroke-width="0.59" fill="none"/>
<text x="72.20" y="327.00" font-size="7.0" fill="#333" stroke="#333" stroke-width="0.2" text-anchor="middle">–</text>
<text x="91.00" y="327.00" font-size="7.0" fill="#333" stroke="#333" stroke-width="0.2" text-anchor="middle">+</text>
<text x="109.80" y="327.00" font-size="7.0" fill="#333" stroke="#333" stroke-width="0.2" text-anchor="middle">–</text>
<text x="128.60" y="327.00" font-size="7.0" fill="#333" stroke="#333" stroke-width="0.2" text-anchor="middle">+</text>
<text x="147.40" y="327.00" font-size="7.0" fill="#333" stroke="#333" stroke-width="0.2" text-anchor="middle">–</text>
<text x="166.20" y="327.00" font-size="7.0" fill="#333" stroke="#333" stroke-width="0.2" text-anchor="middle">+</text>
<text x="72.20" y="363.80" font-size="7.0" fill="#333" stroke="#333" stroke-width="0.2" text-anchor="middle">–</text>
<text x="91.00" y="363.80" font-size="7.0" fill="#333" stroke="#333" stroke-width="0.2" text-anchor="middle">+</text>
<text x="109.80" y="363.80" font-size="7.0" fill="#333" stroke="#333" stroke-width="0.2" text-anchor="middle">–</text>
<text x="128.60" y="363.80" font-size="7.0" fill="#333" stroke="#333" stroke-width="0.2" text-anchor="middle">+</text>
<text x="147.40" y="363.80" font-size="7.0" fill="#333" stroke="#333" stroke-width="0.2" text-anchor="middle">–</text>
<text x="166.20" y="363.80" font-size="7.0" fill="#333" stroke="#333" stroke-width="0.2" text-anchor="middle">+</text>
<text x="81.70" y="338.70" font-size="7.5" fill="#643c88" stroke="#643c88" stroke-width="0.05" text-anchor="middle" textLength="21.00" lengthAdjust="spacingAndGlyphs">#1194</text>
<text x="73.50" y="347.40" font-size="7.5" fill="#643c88" stroke="#643c88" stroke-width="0.05" textLength="13.80" lengthAdjust="spacingAndGlyphs">IgM</text>
<text x="87.60" y="344.40" font-size="4.8" fill="#643c88" stroke="#643c88" stroke-width="0.1">+</text>
<line x1="69.90" y1="353.30" x2="93.50" y2="353.30" stroke="#111" stroke-width="1.2"/>
<text x="119.20" y="338.70" font-size="7.5" fill="#3d5b9c" stroke="#3d5b9c" stroke-width="0.05" text-anchor="middle" textLength="21.00" lengthAdjust="spacingAndGlyphs">#1129</text>
<text x="111.00" y="347.40" font-size="7.5" fill="#3d5b9c" stroke="#3d5b9c" stroke-width="0.05" textLength="13.80" lengthAdjust="spacingAndGlyphs">IgM</text>
<text x="125.10" y="344.40" font-size="4.8" fill="#3d5b9c" stroke="#3d5b9c" stroke-width="0.1">-</text>
<line x1="107.40" y1="353.30" x2="131.00" y2="353.30" stroke="#111" stroke-width="1.2"/>
<text x="156.90" y="338.70" font-size="7.5" fill="#3d5b9c" stroke="#3d5b9c" stroke-width="0.05" text-anchor="middle" textLength="21.00" lengthAdjust="spacingAndGlyphs">#1271</text>
<text x="148.70" y="347.40" font-size="7.5" fill="#3d5b9c" stroke="#3d5b9c" stroke-width="0.05" textLength="13.80" lengthAdjust="spacingAndGlyphs">IgM</text>
<text x="162.80" y="344.40" font-size="4.8" fill="#3d5b9c" stroke="#3d5b9c" stroke-width="0.1">+</text>
<line x1="145.10" y1="353.30" x2="168.70" y2="353.30" stroke="#111" stroke-width="1.2"/>
<text transform="translate(190.0,352.5) rotate(-90)" font-size="7.4" fill="#222" stroke="#222" stroke-width="0.2" text-anchor="middle" textLength="23" lengthAdjust="spacingAndGlyphs">4-OHT</text>
<rect x="58.50" y="368.00" width="120.20" height="17.80" fill="#1a1a1a"/>
<rect x="59.60" y="369.10" width="118.00" height="15.60" fill="#e4e4e4"/>
<rect x="58.50" y="385.80" width="120.20" height="2.40" fill="#888"/>
<rect x="58.50" y="387.90" width="120.20" height="19.70" fill="#1a1a1a"/>
<rect x="59.60" y="389.00" width="118.00" height="17.50" fill="#eeeeee"/>
<rect x="61.20" y="373.00" width="18.80" height="5.20" rx="2.60" fill="#0a0a0a" opacity="1.0" filter="url(#bl)"/>
<rect x="82.20" y="374.50" width="15.60" height="4.60" rx="2.30" fill="#0a0a0a" opacity="1.0" filter="url(#bl)"/>
<rect x="100.80" y="373.70" width="16.60" height="6.60" rx="3.30" fill="#0a0a0a" opacity="1.0" filter="url(#bl)"/>
<rect x="119.60" y="375.90" width="16.40" height="2.60" rx="1.30" fill="#a8a8a8" opacity="1.0" filter="url(#bl)"/>
<rect x="138.60" y="373.70" width="16.20" height="6.60" rx="3.30" fill="#0a0a0a" opacity="1.0" filter="url(#bl)"/>
<rect x="157.20" y="375.30" width="17.20" height="3.80" rx="1.90" fill="#404040" opacity="1.0" filter="url(#bl)"/>
<rect x="61.00" y="394.20" width="19.60" height="6.80" rx="3.40" fill="#0a0a0a" opacity="1.0" filter="url(#bl)"/>
<rect x="80.80" y="394.40" width="18.80" height="6.40" rx="3.20" fill="#0a0a0a" opacity="1.0" filter="url(#bl)"/>
<rect x="99.40" y="394.10" width="18.80" height="6.60" rx="3.30" fill="#0a0a0a" opacity="1.0" filter="url(#bl)"/>
<rect x="119.00" y="394.00" width="18.60" height="6.00" rx="3.00" fill="#0a0a0a" opacity="1.0" filter="url(#bl)"/>
<rect x="138.00" y="394.20" width="18.20" height="6.40" rx="3.20" fill="#0a0a0a" opacity="1.0" filter="url(#bl)"/>
<rect x="156.40" y="394.40" width="18.60" height="6.00" rx="3.00" fill="#0a0a0a" opacity="1.0" filter="url(#bl)"/>
<text x="38.80" y="370.00" font-size="7.6" fill="#222" stroke="#222" stroke-width="0.2" textLength="13.20" lengthAdjust="spacingAndGlyphs">kDa</text>
<text x="52.20" y="384.50" font-size="7.6" fill="#222" stroke="#222" stroke-width="0.2" text-anchor="end" textLength="8.60" lengthAdjust="spacingAndGlyphs">64</text>
<text x="52.20" y="405.70" font-size="7.6" fill="#222" stroke="#222" stroke-width="0.2" text-anchor="end" textLength="8.60" lengthAdjust="spacingAndGlyphs">39</text>
<line x1="55.60" y1="381.80" x2="58.50" y2="381.80" stroke="#111" stroke-width="1.0"/>
<line x1="55.60" y1="403.00" x2="58.50" y2="403.00" stroke="#111" stroke-width="1.0"/>
<text x="182.20" y="382.30" font-size="7.7" fill="#222" stroke="#222" stroke-width="0.2" textLength="16.40" lengthAdjust="spacingAndGlyphs">MNT</text>
<text x="182.20" y="401.40" font-size="7.7" fill="#222" stroke="#222" stroke-width="0.2" textLength="22.40" lengthAdjust="spacingAndGlyphs">ACTIN</text>
<rect x="70.10" y="415.50" width="21.30" height="8.30" fill="#bba6c9"/>
<rect x="125.90" y="415.50" width="21.00" height="8.30" fill="#a6aacf"/>
<text x="38.70" y="434.60" font-size="7.2" fill="#222" stroke="#222" stroke-width="0.2" textLength="57.90" lengthAdjust="spacingAndGlyphs">Eμ-<tspan font-style="italic">Myc/CreERT2</tspan></text>
<text x="121.20" y="434.60" font-size="7.2" fill="#222" stroke="#222" stroke-width="0.12" font-style="italic" textLength="13.00" lengthAdjust="spacingAndGlyphs">Mnt</text>
<text x="134.50" y="431.58" font-size="4.4" fill="#222" stroke="#222" stroke-width="0.06" font-style="italic" textLength="7.50" lengthAdjust="spacingAndGlyphs">fl/fl</text>
<text x="143.70" y="434.60" font-size="7.2" fill="#222" stroke="#222" stroke-width="0.12" textLength="58.30" lengthAdjust="spacingAndGlyphs">Eμ-<tspan font-style="italic">Myc/CreERT2</tspan></text>
<polyline points="271.30,195.20 298.50,195.20 298.50,201.80 315.80,201.80 315.80,208.20 317.50,208.20 317.50,216.80 319.60,216.80 319.60,232.40 324.80,232.40 324.80,235.00 331.40,235.00 331.40,237.00 338.30,237.00 338.30,250.60 340.40,250.60 340.40,257.50 347.30,257.50 347.30,262.70 349.90,262.70 349.90,265.30 352.50,265.30 352.50,267.90 354.20,267.90 354.20,269.60 363.70,269.60 363.70,271.70 377.50,271.70 377.50,273.80 409.60,273.80" fill="none" stroke="#1f3f87" stroke-width="1.35" stroke-linejoin="miter" stroke-linecap="butt"/>
<polyline points="271.30,195.20 294.50,195.20 294.50,197.80 296.20,197.80 296.20,203.00 298.00,203.00 298.00,206.40 300.60,206.40 300.60,210.80 303.70,210.80 303.70,228.00 311.00,228.00 311.00,241.00 312.70,241.00 312.70,248.80 315.80,248.80 315.80,255.40 320.50,255.40 320.50,266.10 326.50,266.10 326.50,270.40 329.10,270.40 329.10,273.00 331.40,273.00 331.40,278.20 334.30,278.20 334.30,280.80 336.90,280.80 336.90,283.40 355.00,283.40 355.00,285.50 363.70,285.50 363.70,287.40" fill="none" stroke="#c4c4c4" stroke-width="1.2" stroke-linejoin="miter" stroke-linecap="butt"/>
<line x1="271.50" y1="192.00" x2="271.50" y2="288.30" stroke="#111" stroke-width="1.2"/>
<line x1="270.90" y1="287.70" x2="413.80" y2="287.70" stroke="#111" stroke-width="1.2"/>
<line x1="268.00" y1="195.20" x2="271.50" y2="195.20" stroke="#111" stroke-width="0.9"/>
<text x="264.60" y="198.00" font-size="8.0" fill="#222" stroke="#222" stroke-width="0.2" text-anchor="end" textLength="12.60" lengthAdjust="spacingAndGlyphs">100</text>
<line x1="268.00" y1="241.45" x2="271.50" y2="241.45" stroke="#111" stroke-width="0.9"/>
<text x="264.60" y="244.25" font-size="8.0" fill="#222" stroke="#222" stroke-width="0.2" text-anchor="end" textLength="8.40" lengthAdjust="spacingAndGlyphs">50</text>
<line x1="268.00" y1="287.70" x2="271.50" y2="287.70" stroke="#111" stroke-width="0.9"/>
<text x="264.60" y="290.50" font-size="8.0" fill="#222" stroke="#222" stroke-width="0.2" text-anchor="end" textLength="4.20" lengthAdjust="spacingAndGlyphs">0</text>
<line x1="271.30" y1="287.70" x2="271.30" y2="290.70" stroke="#111" stroke-width="0.9"/>
<text x="271.00" y="301.80" font-size="7.8" fill="#222" stroke="#222" stroke-width="0.2" text-anchor="middle" textLength="4.00" lengthAdjust="spacingAndGlyphs">0</text>
<line x1="317.50" y1="287.70" x2="317.50" y2="290.70" stroke="#111" stroke-width="0.9"/>
<text x="317.20" y="301.80" font-size="7.8" fill="#222" stroke="#222" stroke-width="0.2" text-anchor="middle" textLength="8.00" lengthAdjust="spacingAndGlyphs">20</text>
<line x1="363.70" y1="287.70" x2="363.70" y2="290.70" stroke="#111" stroke-width="0.9"/>
<text x="363.40" y="301.80" font-size="7.8" fill="#222" stroke="#222" stroke-width="0.2" text-anchor="middle" textLength="8.00" lengthAdjust="spacingAndGlyphs">40</text>
<line x1="409.90" y1="287.70" x2="409.90" y2="290.70" stroke="#111" stroke-width="0.9"/>
<text x="409.60" y="301.80" font-size="7.8" fill="#222" stroke="#222" stroke-width="0.2" text-anchor="middle" textLength="8.00" lengthAdjust="spacingAndGlyphs">60</text>
<text transform="translate(245.1,240.25) rotate(-90)" font-size="9.6" fill="#222" stroke="#222" stroke-width="0.2" text-anchor="middle" textLength="68.5" lengthAdjust="spacingAndGlyphs">Mouse survival (%)</text>
<text x="342.30" y="315.60" font-size="9.8" fill="#222" stroke="#222" stroke-width="0.2" text-anchor="middle" textLength="89.50" lengthAdjust="spacingAndGlyphs">Days post-transplantation</text>
<text x="333.80" y="216.70" font-size="7.0" fill="#222" stroke="#222" stroke-width="0.2" textLength="26.60" lengthAdjust="spacingAndGlyphs">p&lt;0.0001</text>
<text x="393.20" y="203.80" font-size="9.0" fill="#111" stroke="#111" stroke-width="0.12" font-style="italic" textLength="17.30" lengthAdjust="spacingAndGlyphs">Mnt</text>
<text x="411.90" y="199.60" font-size="5.6" fill="#111" stroke="#111" stroke-width="0.06" font-style="italic" textLength="7.50" lengthAdjust="spacingAndGlyphs">fl/fl</text>
<text x="422.90" y="203.80" font-size="9.0" fill="#111" stroke="#111" stroke-width="0.12" textLength="76.50" lengthAdjust="spacingAndGlyphs">Eμ-<tspan font-style="italic">Myc/CreERT2</tspan></text>
<text x="445.80" y="216.20" font-size="9.0" fill="#111" stroke="#111" stroke-width="0.2" text-anchor="middle">(n=14)</text>
<line x1="423.30" y1="244.00" x2="446.00" y2="244.00" stroke="#c4c4c4" stroke-width="1.6"/>
<text x="449.30" y="246.90" font-size="6.6" fill="#333" stroke="#333" stroke-width="0.12" textLength="19.60" lengthAdjust="spacingAndGlyphs">vehicle</text>
<line x1="423.30" y1="257.40" x2="446.00" y2="257.40" stroke="#1f3f87" stroke-width="1.6"/>
<text x="449.30" y="259.60" font-size="6.6" fill="#333" stroke="#333" stroke-width="0.12" textLength="28.60" lengthAdjust="spacingAndGlyphs">tamoxifen</text>
<polyline points="296.60,333.10 296.60,343.70 301.20,343.70 301.20,364.40 310.40,364.40 310.40,380.70 312.10,380.70 312.10,391.60 317.30,391.60 317.30,395.10 345.40,395.10 345.40,401.50 352.00,401.50 352.00,408.90 361.30,408.90 361.30,419.30 381.80,419.30 381.80,426.00" fill="none" stroke="#c4c4c4" stroke-width="1.2" stroke-linejoin="miter" stroke-linecap="butt"/>
<polyline points="271.30,333.10 305.90,333.10 305.90,336.80 307.30,336.80 307.30,338.80 308.70,338.80 308.70,340.20 310.80,340.20 310.80,363.90 312.50,363.90 312.50,367.40 317.30,367.40 317.30,384.70 321.70,384.70 321.70,391.60 326.30,391.60 326.30,395.10 350.20,395.10 350.20,405.40 375.60,405.40 375.60,415.60 382.70,415.60 382.70,422.40 396.20,422.40 396.20,425.60" fill="none" stroke="#4f1a6e" stroke-width="1.35" stroke-linejoin="miter" stroke-linecap="butt"/>
<line x1="271.50" y1="329.80" x2="271.50" y2="426.80" stroke="#111" stroke-width="1.2"/>
<line x1="270.90" y1="426.20" x2="413.80" y2="426.20" stroke="#111" stroke-width="1.2"/>
<line x1="268.00" y1="333.00" x2="271.50" y2="333.00" stroke="#111" stroke-width="0.9"/>
<text x="264.60" y="335.80" font-size="8.0" fill="#222" stroke="#222" stroke-width="0.2" text-anchor="end" textLength="12.60" lengthAdjust="spacingAndGlyphs">100</text>
<line x1="268.00" y1="379.60" x2="271.50" y2="379.60" stroke="#111" stroke-width="0.9"/>
<text x="264.60" y="382.40" font-size="8.0" fill="#222" stroke="#222" stroke-width="0.2" text-anchor="end" textLength="8.40" lengthAdjust="spacingAndGlyphs">50</text>
<line x1="268.00" y1="426.20" x2="271.50" y2="426.20" stroke="#111" stroke-width="0.9"/>
<text x="264.60" y="429.00" font-size="8.0" fill="#222" stroke="#222" stroke-width="0.2" text-anchor="end" textLength="4.20" lengthAdjust="spacingAndGlyphs">0</text>
<line x1="271.30" y1="426.20" x2="271.30" y2="429.20" stroke="#111" stroke-width="0.9"/>
<text x="271.00" y="440.60" font-size="7.8" fill="#222" stroke="#222" stroke-width="0.2" text-anchor="middle" textLength="4.00" lengthAdjust="spacingAndGlyphs">0</text>
<line x1="317.50" y1="426.20" x2="317.50" y2="429.20" stroke="#111" stroke-width="0.9"/>
<text x="317.20" y="440.60" font-size="7.8" fill="#222" stroke="#222" stroke-width="0.2" text-anchor="middle" textLength="8.00" lengthAdjust="spacingAndGlyphs">20</text>
<line x1="363.70" y1="426.20" x2="363.70" y2="429.20" stroke="#111" stroke-width="0.9"/>
<text x="363.40" y="440.60" font-size="7.8" fill="#222" stroke="#222" stroke-width="0.2" text-anchor="middle" textLength="8.00" lengthAdjust="spacingAndGlyphs">40</text>
<line x1="409.90" y1="426.20" x2="409.90" y2="429.20" stroke="#111" stroke-width="0.9"/>
<text x="409.60" y="440.60" font-size="7.8" fill="#222" stroke="#222" stroke-width="0.2" text-anchor="middle" textLength="8.00" lengthAdjust="spacingAndGlyphs">60</text>
<text transform="translate(245.1,378.40) rotate(-90)" font-size="9.6" fill="#222" stroke="#222" stroke-width="0.2" text-anchor="middle" textLength="68.5" lengthAdjust="spacingAndGlyphs">Mouse survival (%)</text>
<text x="342.30" y="454.30" font-size="9.8" fill="#222" stroke="#222" stroke-width="0.2" text-anchor="middle" textLength="89.50" lengthAdjust="spacingAndGlyphs">Days post-transplantation</text>
<text x="343.60" y="354.30" font-size="6.8" fill="#222" stroke="#222" stroke-width="0.2" textLength="6.40" lengthAdjust="spacingAndGlyphs">ns</text>
<text x="408.00" y="338.60" font-size="9.0" fill="#111" stroke="#111" stroke-width="0.12" textLength="77.00" lengthAdjust="spacingAndGlyphs">Eμ-<tspan font-style="italic">Myc/CreERT2</tspan></text>
<text x="445.80" y="350.30" font-size="9.0" fill="#111" stroke="#111" stroke-width="0.2" text-anchor="middle">(n=9)</text>
<line x1="423.30" y1="380.00" x2="446.00" y2="380.00" stroke="#c4c4c4" stroke-width="1.6"/>
<text x="449.30" y="382.90" font-size="6.6" fill="#333" stroke="#333" stroke-width="0.12" textLength="19.60" lengthAdjust="spacingAndGlyphs">vehicle</text>
<line x1="423.30" y1="393.40" x2="446.00" y2="393.40" stroke="#4f1a6e" stroke-width="1.6"/>
<text x="449.30" y="395.60" font-size="6.6" fill="#333" stroke="#333" stroke-width="0.12" textLength="28.60" lengthAdjust="spacingAndGlyphs">tamoxifen</text>
<text x="22.50" y="491.70" font-size="10.0" fill="#111" stroke="#111" stroke-width="0.02" font-style="italic" textLength="58.30" lengthAdjust="spacingAndGlyphs">p53 WT Mnt</text>
<text x="81.40" y="487.70" font-size="7.0" fill="#111" stroke="#111" stroke-width="0.05" font-style="italic" textLength="10.60" lengthAdjust="spacingAndGlyphs">+/+</text>
<text x="93.50" y="491.70" font-size="10.0" fill="#111" stroke="#111" stroke-width="0.02" font-style="italic" textLength="81.20" lengthAdjust="spacingAndGlyphs">Eμ-Myc /CreERT2</text>
<text x="22.60" y="607.40" font-size="10.0" fill="#111" stroke="#111" stroke-width="0.02" font-style="italic" textLength="55.40" lengthAdjust="spacingAndGlyphs">p53 WT Mnt</text>
<text x="79.80" y="603.40" font-size="7.0" fill="#111" stroke="#111" stroke-width="0.05" font-style="italic" textLength="10.80" lengthAdjust="spacingAndGlyphs">fl/fl</text>
<text x="94.00" y="607.40" font-size="10.0" fill="#111" stroke="#111" stroke-width="0.02" font-style="italic" textLength="80.70" lengthAdjust="spacingAndGlyphs">Eμ-Myc /CreERT2</text>
<text x="22.60" y="725.40" font-size="10.0" fill="#111" stroke="#111" stroke-width="0.02" font-style="italic" textLength="73.50" lengthAdjust="spacingAndGlyphs">p53 mutant Mnt</text>
<text x="97.40" y="721.40" font-size="7.0" fill="#111" stroke="#111" stroke-width="0.05" font-style="italic" textLength="9.80" lengthAdjust="spacingAndGlyphs">fl/fl</text>
<text x="111.40" y="725.40" font-size="10.0" fill="#111" stroke="#111" stroke-width="0.02" font-style="italic" textLength="79.90" lengthAdjust="spacingAndGlyphs">Eμ-Myc /CreERT2</text>
<rect x="190.00" y="505.50" width="10.20" height="4.40" fill="#d9a298"/>
<text x="203.90" y="509.90" font-size="7.0" fill="#333" stroke="#333" stroke-width="0.1" textLength="27.50" lengthAdjust="spacingAndGlyphs">untreated</text>
<rect x="190.00" y="518.70" width="10.20" height="4.40" fill="#a5aad0"/>
<text x="203.90" y="523.10" font-size="7.0" fill="#333" stroke="#333" stroke-width="0.1" textLength="39.30" lengthAdjust="spacingAndGlyphs">+4-OHT (48h)</text>
<rect x="190.00" y="532.10" width="10.20" height="4.40" fill="#c6e0ab"/>
<text x="203.90" y="536.50" font-size="7.0" fill="#333" stroke="#333" stroke-width="0.1" textLength="39.30" lengthAdjust="spacingAndGlyphs">+4-OHT (72h)</text>
<rect x="63.90" y="521.10" width="7.00" height="57.10" fill="#d9a298"/>
<rect x="75.20" y="537.09" width="7.00" height="41.11" fill="#a5aad0"/>
<rect x="86.40" y="535.38" width="7.00" height="42.83" fill="#c6e0ab"/>
<line x1="78.70" y1="539.37" x2="78.70" y2="534.23" stroke="#23509a" stroke-width="0.9"/>
<line x1="76.90" y1="539.37" x2="80.50" y2="539.37" stroke="#23509a" stroke-width="0.9"/>
<line x1="76.90" y1="534.23" x2="80.50" y2="534.23" stroke="#23509a" stroke-width="0.9"/>
<line x1="89.90" y1="543.94" x2="89.90" y2="526.24" stroke="#4aa23c" stroke-width="0.9"/>
<line x1="88.10" y1="543.94" x2="91.70" y2="543.94" stroke="#4aa23c" stroke-width="0.9"/>
<line x1="88.10" y1="526.24" x2="91.70" y2="526.24" stroke="#4aa23c" stroke-width="0.9"/>
<circle cx="64.60" cy="521.30" r="0.95" fill="#c0163a"/>
<circle cx="67.40" cy="521.30" r="0.95" fill="#c0163a"/>
<circle cx="70.20" cy="521.30" r="0.95" fill="#c0163a"/>
<circle cx="78.70" cy="535.95" r="0.95" fill="#23509a"/>
<circle cx="78.70" cy="538.23" r="0.95" fill="#23509a"/>
<circle cx="89.90" cy="526.81" r="0.95" fill="#4aa23c"/>
<circle cx="89.90" cy="542.80" r="0.95" fill="#4aa23c"/>
<line x1="60.30" y1="517.50" x2="60.30" y2="578.70" stroke="#111" stroke-width="1.1"/>
<line x1="59.80" y1="578.20" x2="97.90" y2="578.20" stroke="#111" stroke-width="1.1"/>
<line x1="56.50" y1="578.20" x2="60.30" y2="578.20" stroke="#111" stroke-width="0.9"/>
<text x="53.00" y="580.90" font-size="7.7" fill="#222" stroke="#222" stroke-width="0.2" text-anchor="end" textLength="4.10" lengthAdjust="spacingAndGlyphs">0</text>
<line x1="56.50" y1="566.78" x2="60.30" y2="566.78" stroke="#111" stroke-width="0.9"/>
<text x="53.00" y="569.48" font-size="7.7" fill="#222" stroke="#222" stroke-width="0.2" text-anchor="end" textLength="8.20" lengthAdjust="spacingAndGlyphs">20</text>
<line x1="56.50" y1="555.36" x2="60.30" y2="555.36" stroke="#111" stroke-width="0.9"/>
<text x="53.00" y="558.06" font-size="7.7" fill="#222" stroke="#222" stroke-width="0.2" text-anchor="end" textLength="8.20" lengthAdjust="spacingAndGlyphs">40</text>
<line x1="56.50" y1="543.94" x2="60.30" y2="543.94" stroke="#111" stroke-width="0.9"/>
<text x="53.00" y="546.64" font-size="7.7" fill="#222" stroke="#222" stroke-width="0.2" text-anchor="end" textLength="8.20" lengthAdjust="spacingAndGlyphs">60</text>
<line x1="56.50" y1="532.52" x2="60.30" y2="532.52" stroke="#111" stroke-width="0.9"/>
<text x="53.00" y="535.22" font-size="7.7" fill="#222" stroke="#222" stroke-width="0.2" text-anchor="end" textLength="8.20" lengthAdjust="spacingAndGlyphs">80</text>
<line x1="56.50" y1="521.10" x2="60.30" y2="521.10" stroke="#111" stroke-width="0.9"/>
<text x="53.00" y="523.80" font-size="7.7" fill="#222" stroke="#222" stroke-width="0.2" text-anchor="end" textLength="12.30" lengthAdjust="spacingAndGlyphs">100</text>
<line x1="67.40" y1="578.20" x2="67.40" y2="581.40" stroke="#111" stroke-width="0.9"/>
<line x1="78.70" y1="578.20" x2="78.70" y2="581.40" stroke="#111" stroke-width="0.9"/>
<line x1="89.90" y1="578.20" x2="89.90" y2="581.40" stroke="#111" stroke-width="0.9"/>
<text transform="translate(34.30,548.15) rotate(-90)" font-size="8.6" fill="#222" stroke="#222" stroke-width="0.2" text-anchor="middle" textLength="28.7" lengthAdjust="spacingAndGlyphs">Viability</text>
<text x="78.60" y="503.60" font-size="6.8" fill="#222" stroke="#222" stroke-width="0.2" text-anchor="middle" textLength="20.75" lengthAdjust="spacingAndGlyphs">#1194</text>
<line x1="66.40" y1="516.50" x2="81.60" y2="516.50" stroke="#222" stroke-width="0.9"/>
<line x1="66.40" y1="515.10" x2="66.40" y2="517.90" stroke="#222" stroke-width="1.1"/>
<line x1="81.60" y1="515.10" x2="81.60" y2="517.90" stroke="#222" stroke-width="1.1"/>
<circle cx="71.40" cy="513.40" r="0.62" fill="#222"/>
<path d="M71.40,512.47 v1.86 M70.59,512.93 l1.61,0.93 M70.59,513.87 l1.61,-0.93" stroke="#222" stroke-width="0.43" fill="none"/>
<circle cx="74.00" cy="513.40" r="0.62" fill="#222"/>
<path d="M74.00,512.47 v1.86 M73.19,512.93 l1.61,0.93 M73.19,513.87 l1.61,-0.93" stroke="#222" stroke-width="0.43" fill="none"/>
<circle cx="76.60" cy="513.40" r="0.62" fill="#222"/>
<path d="M76.60,512.47 v1.86 M75.79,512.93 l1.61,0.93 M75.79,513.87 l1.61,-0.93" stroke="#222" stroke-width="0.43" fill="none"/>
<rect x="154.70" y="521.10" width="7.00" height="57.10" fill="#d9a298"/>
<rect x="165.90" y="537.66" width="7.00" height="40.54" fill="#a5aad0"/>
<rect x="177.30" y="538.80" width="7.00" height="39.40" fill="#c6e0ab"/>
<line x1="169.40" y1="541.66" x2="169.40" y2="532.52" stroke="#23509a" stroke-width="0.9"/>
<line x1="167.60" y1="541.66" x2="171.20" y2="541.66" stroke="#23509a" stroke-width="0.9"/>
<line x1="167.60" y1="532.52" x2="171.20" y2="532.52" stroke="#23509a" stroke-width="0.9"/>
<line x1="180.80" y1="542.23" x2="180.80" y2="531.95" stroke="#4aa23c" stroke-width="0.9"/>
<line x1="179.00" y1="542.23" x2="182.60" y2="542.23" stroke="#4aa23c" stroke-width="0.9"/>
<line x1="179.00" y1="531.95" x2="182.60" y2="531.95" stroke="#4aa23c" stroke-width="0.9"/>
<rect x="154.70" y="520.30" width="7.00" height="1.60" fill="#b5163a"/>
<circle cx="169.40" cy="529.67" r="0.95" fill="#23509a"/>
<circle cx="169.40" cy="535.38" r="0.95" fill="#23509a"/>
<circle cx="169.40" cy="540.51" r="0.95" fill="#23509a"/>
<circle cx="180.80" cy="529.67" r="0.95" fill="#4aa23c"/>
<circle cx="178.80" cy="537.66" r="0.95" fill="#4aa23c"/>
<circle cx="182.80" cy="537.66" r="0.95" fill="#4aa23c"/>
<line x1="150.80" y1="517.50" x2="150.80" y2="578.70" stroke="#111" stroke-width="1.1"/>
<line x1="150.30" y1="578.20" x2="188.80" y2="578.20" stroke="#111" stroke-width="1.1"/>
<line x1="147.00" y1="578.20" x2="150.80" y2="578.20" stroke="#111" stroke-width="0.9"/>
<text x="143.50" y="580.90" font-size="7.7" fill="#222" stroke="#222" stroke-width="0.2" text-anchor="end" textLength="4.10" lengthAdjust="spacingAndGlyphs">0</text>
<line x1="147.00" y1="566.78" x2="150.80" y2="566.78" stroke="#111" stroke-width="0.9"/>
<text x="143.50" y="569.48" font-size="7.7" fill="#222" stroke="#222" stroke-width="0.2" text-anchor="end" textLength="8.20" lengthAdjust="spacingAndGlyphs">20</text>
<line x1="147.00" y1="555.36" x2="150.80" y2="555.36" stroke="#111" stroke-width="0.9"/>
<text x="143.50" y="558.06" font-size="7.7" fill="#222" stroke="#222" stroke-width="0.2" text-anchor="end" textLength="8.20" lengthAdjust="spacingAndGlyphs">40</text>
<line x1="147.00" y1="543.94" x2="150.80" y2="543.94" stroke="#111" stroke-width="0.9"/>
<text x="143.50" y="546.64" font-size="7.7" fill="#222" stroke="#222" stroke-width="0.2" text-anchor="end" textLength="8.20" lengthAdjust="spacingAndGlyphs">60</text>
<line x1="147.00" y1="532.52" x2="150.80" y2="532.52" stroke="#111" stroke-width="0.9"/>
<text x="143.50" y="535.22" font-size="7.7" fill="#222" stroke="#222" stroke-width="0.2" text-anchor="end" textLength="8.20" lengthAdjust="spacingAndGlyphs">80</text>
<line x1="147.00" y1="521.10" x2="150.80" y2="521.10" stroke="#111" stroke-width="0.9"/>
<text x="143.50" y="523.80" font-size="7.7" fill="#222" stroke="#222" stroke-width="0.2" text-anchor="end" textLength="12.30" lengthAdjust="spacingAndGlyphs">100</text>
<line x1="158.20" y1="578.20" x2="158.20" y2="581.40" stroke="#111" stroke-width="0.9"/>
<line x1="169.40" y1="578.20" x2="169.40" y2="581.40" stroke="#111" stroke-width="0.9"/>
<line x1="180.80" y1="578.20" x2="180.80" y2="581.40" stroke="#111" stroke-width="0.9"/>
<text transform="translate(124.80,548.15) rotate(-90)" font-size="8.6" fill="#222" stroke="#222" stroke-width="0.2" text-anchor="middle" textLength="28.7" lengthAdjust="spacingAndGlyphs">Viability</text>
<text x="169.40" y="503.60" font-size="6.8" fill="#222" stroke="#222" stroke-width="0.2" text-anchor="middle" textLength="20.75" lengthAdjust="spacingAndGlyphs">#1549</text>
<line x1="157.20" y1="516.80" x2="172.50" y2="516.80" stroke="#222" stroke-width="0.9"/>
<line x1="157.20" y1="515.40" x2="157.20" y2="518.20" stroke="#222" stroke-width="1.1"/>
<line x1="172.50" y1="515.40" x2="172.50" y2="518.20" stroke="#222" stroke-width="1.1"/>
<circle cx="160.95" cy="513.70" r="0.62" fill="#222"/>
<path d="M160.95,512.77 v1.86 M160.14,513.23 l1.61,0.93 M160.14,514.16 l1.61,-0.93" stroke="#222" stroke-width="0.43" fill="none"/>
<circle cx="163.55" cy="513.70" r="0.62" fill="#222"/>
<path d="M163.55,512.77 v1.86 M162.74,513.23 l1.61,0.93 M162.74,514.16 l1.61,-0.93" stroke="#222" stroke-width="0.43" fill="none"/>
<circle cx="166.15" cy="513.70" r="0.62" fill="#222"/>
<path d="M166.15,512.77 v1.86 M165.34,513.23 l1.61,0.93 M165.34,514.16 l1.61,-0.93" stroke="#222" stroke-width="0.43" fill="none"/>
<circle cx="168.75" cy="513.70" r="0.62" fill="#222"/>
<path d="M168.75,512.77 v1.86 M167.94,513.23 l1.61,0.93 M167.94,514.16 l1.61,-0.93" stroke="#222" stroke-width="0.43" fill="none"/>
<rect x="63.90" y="641.20" width="7.00" height="56.40" fill="#d9a298"/>
<rect x="75.20" y="696.47" width="7.00" height="1.13" fill="#a5aad0"/>
<rect x="86.40" y="697.04" width="7.00" height="0.56" fill="#c6e0ab"/>
<line x1="78.70" y1="697.60" x2="78.70" y2="694.22" stroke="#23509a" stroke-width="0.9"/>
<line x1="76.90" y1="697.60" x2="80.50" y2="697.60" stroke="#23509a" stroke-width="0.9"/>
<line x1="76.90" y1="694.22" x2="80.50" y2="694.22" stroke="#23509a" stroke-width="0.9"/>
<circle cx="64.60" cy="641.40" r="0.95" fill="#c0163a"/>
<circle cx="67.40" cy="641.40" r="0.95" fill="#c0163a"/>
<circle cx="70.20" cy="641.40" r="0.95" fill="#c0163a"/>
<circle cx="78.70" cy="694.22" r="0.95" fill="#23509a"/>
<circle cx="76.50" cy="697.04" r="0.95" fill="#23509a"/>
<circle cx="78.70" cy="696.75" r="0.95" fill="#23509a"/>
<circle cx="80.90" cy="697.04" r="0.95" fill="#23509a"/>
<circle cx="87.30" cy="697.04" r="0.95" fill="#4aa23c"/>
<circle cx="89.00" cy="697.04" r="0.95" fill="#4aa23c"/>
<circle cx="90.80" cy="697.04" r="0.95" fill="#4aa23c"/>
<circle cx="92.50" cy="697.04" r="0.95" fill="#4aa23c"/>
<line x1="60.30" y1="637.60" x2="60.30" y2="698.10" stroke="#111" stroke-width="1.1"/>
<line x1="59.80" y1="697.60" x2="97.90" y2="697.60" stroke="#111" stroke-width="1.1"/>
<line x1="56.50" y1="697.60" x2="60.30" y2="697.60" stroke="#111" stroke-width="0.9"/>
<text x="53.00" y="700.30" font-size="7.7" fill="#222" stroke="#222" stroke-width="0.2" text-anchor="end" textLength="4.10" lengthAdjust="spacingAndGlyphs">0</text>
<line x1="56.50" y1="686.32" x2="60.30" y2="686.32" stroke="#111" stroke-width="0.9"/>
<text x="53.00" y="689.02" font-size="7.7" fill="#222" stroke="#222" stroke-width="0.2" text-anchor="end" textLength="8.20" lengthAdjust="spacingAndGlyphs">20</text>
<line x1="56.50" y1="675.04" x2="60.30" y2="675.04" stroke="#111" stroke-width="0.9"/>
<text x="53.00" y="677.74" font-size="7.7" fill="#222" stroke="#222" stroke-width="0.2" text-anchor="end" textLength="8.20" lengthAdjust="spacingAndGlyphs">40</text>
<line x1="56.50" y1="663.76" x2="60.30" y2="663.76" stroke="#111" stroke-width="0.9"/>
<text x="53.00" y="666.46" font-size="7.7" fill="#222" stroke="#222" stroke-width="0.2" text-anchor="end" textLength="8.20" lengthAdjust="spacingAndGlyphs">60</text>
<line x1="56.50" y1="652.48" x2="60.30" y2="652.48" stroke="#111" stroke-width="0.9"/>
<text x="53.00" y="655.18" font-size="7.7" fill="#222" stroke="#222" stroke-width="0.2" text-anchor="end" textLength="8.20" lengthAdjust="spacingAndGlyphs">80</text>
<line x1="56.50" y1="641.20" x2="60.30" y2="641.20" stroke="#111" stroke-width="0.9"/>
<text x="53.00" y="643.90" font-size="7.7" fill="#222" stroke="#222" stroke-width="0.2" text-anchor="end" textLength="12.30" lengthAdjust="spacingAndGlyphs">100</text>
<line x1="67.40" y1="697.60" x2="67.40" y2="700.80" stroke="#111" stroke-width="0.9"/>
<line x1="78.70" y1="697.60" x2="78.70" y2="700.80" stroke="#111" stroke-width="0.9"/>
<line x1="89.90" y1="697.60" x2="89.90" y2="700.80" stroke="#111" stroke-width="0.9"/>
<text transform="translate(34.30,667.90) rotate(-90)" font-size="8.6" fill="#222" stroke="#222" stroke-width="0.2" text-anchor="middle" textLength="28.7" lengthAdjust="spacingAndGlyphs">Viability</text>
<text x="79.00" y="619.70" font-size="6.8" fill="#222" stroke="#222" stroke-width="0.2" text-anchor="middle" textLength="20.75" lengthAdjust="spacingAndGlyphs">#1129</text>
<line x1="66.40" y1="636.40" x2="81.60" y2="636.40" stroke="#222" stroke-width="0.9"/>
<line x1="66.40" y1="635.00" x2="66.40" y2="637.80" stroke="#222" stroke-width="1.1"/>
<line x1="81.60" y1="635.00" x2="81.60" y2="637.80" stroke="#222" stroke-width="1.1"/>
<circle cx="70.10" cy="633.30" r="0.62" fill="#222"/>
<path d="M70.10,632.37 v1.86 M69.29,632.83 l1.61,0.93 M69.29,633.76 l1.61,-0.93" stroke="#222" stroke-width="0.43" fill="none"/>
<circle cx="72.70" cy="633.30" r="0.62" fill="#222"/>
<path d="M72.70,632.37 v1.86 M71.89,632.83 l1.61,0.93 M71.89,633.76 l1.61,-0.93" stroke="#222" stroke-width="0.43" fill="none"/>
<circle cx="75.30" cy="633.30" r="0.62" fill="#222"/>
<path d="M75.30,632.37 v1.86 M74.49,632.83 l1.61,0.93 M74.49,633.76 l1.61,-0.93" stroke="#222" stroke-width="0.43" fill="none"/>
<circle cx="77.90" cy="633.30" r="0.62" fill="#222"/>
<path d="M77.90,632.37 v1.86 M77.09,632.83 l1.61,0.93 M77.09,633.76 l1.61,-0.93" stroke="#222" stroke-width="0.43" fill="none"/>
<rect x="155.30" y="641.20" width="7.00" height="56.40" fill="#d9a298"/>
<rect x="166.50" y="697.04" width="7.00" height="0.56" fill="#a5aad0"/>
<rect x="177.80" y="697.32" width="7.00" height="0.28" fill="#c6e0ab"/>
<line x1="170.00" y1="697.60" x2="170.00" y2="694.22" stroke="#23509a" stroke-width="0.9"/>
<line x1="168.20" y1="697.60" x2="171.80" y2="697.60" stroke="#23509a" stroke-width="0.9"/>
<line x1="168.20" y1="694.22" x2="171.80" y2="694.22" stroke="#23509a" stroke-width="0.9"/>
<rect x="155.30" y="640.40" width="7.00" height="1.60" fill="#b5163a"/>
<circle cx="170.00" cy="694.22" r="0.95" fill="#23509a"/>
<circle cx="167.80" cy="697.04" r="0.95" fill="#23509a"/>
<circle cx="170.00" cy="696.75" r="0.95" fill="#23509a"/>
<circle cx="172.20" cy="697.04" r="0.95" fill="#23509a"/>
<circle cx="178.70" cy="697.04" r="0.95" fill="#4aa23c"/>
<circle cx="180.40" cy="697.04" r="0.95" fill="#4aa23c"/>
<circle cx="182.20" cy="697.04" r="0.95" fill="#4aa23c"/>
<circle cx="183.90" cy="697.04" r="0.95" fill="#4aa23c"/>
<line x1="151.40" y1="637.60" x2="151.40" y2="698.10" stroke="#111" stroke-width="1.1"/>
<line x1="150.90" y1="697.60" x2="189.30" y2="697.60" stroke="#111" stroke-width="1.1"/>
<line x1="147.60" y1="697.60" x2="151.40" y2="697.60" stroke="#111" stroke-width="0.9"/>
<text x="144.10" y="700.30" font-size="7.7" fill="#222" stroke="#222" stroke-width="0.2" text-anchor="end" textLength="4.10" lengthAdjust="spacingAndGlyphs">0</text>
<line x1="147.60" y1="686.32" x2="151.40" y2="686.32" stroke="#111" stroke-width="0.9"/>
<text x="144.10" y="689.02" font-size="7.7" fill="#222" stroke="#222" stroke-width="0.2" text-anchor="end" textLength="8.20" lengthAdjust="spacingAndGlyphs">20</text>
<line x1="147.60" y1="675.04" x2="151.40" y2="675.04" stroke="#111" stroke-width="0.9"/>
<text x="144.10" y="677.74" font-size="7.7" fill="#222" stroke="#222" stroke-width="0.2" text-anchor="end" textLength="8.20" lengthAdjust="spacingAndGlyphs">40</text>
<line x1="147.60" y1="663.76" x2="151.40" y2="663.76" stroke="#111" stroke-width="0.9"/>
<text x="144.10" y="666.46" font-size="7.7" fill="#222" stroke="#222" stroke-width="0.2" text-anchor="end" textLength="8.20" lengthAdjust="spacingAndGlyphs">60</text>
<line x1="147.60" y1="652.48" x2="151.40" y2="652.48" stroke="#111" stroke-width="0.9"/>
<text x="144.10" y="655.18" font-size="7.7" fill="#222" stroke="#222" stroke-width="0.2" text-anchor="end" textLength="8.20" lengthAdjust="spacingAndGlyphs">80</text>
<line x1="147.60" y1="641.20" x2="151.40" y2="641.20" stroke="#111" stroke-width="0.9"/>
<text x="144.10" y="643.90" font-size="7.7" fill="#222" stroke="#222" stroke-width="0.2" text-anchor="end" textLength="12.30" lengthAdjust="spacingAndGlyphs">100</text>
<line x1="158.80" y1="697.60" x2="158.80" y2="700.80" stroke="#111" stroke-width="0.9"/>
<line x1="170.00" y1="697.60" x2="170.00" y2="700.80" stroke="#111" stroke-width="0.9"/>
<line x1="181.30" y1="697.60" x2="181.30" y2="700.80" stroke="#111" stroke-width="0.9"/>
<text transform="translate(125.40,667.90) rotate(-90)" font-size="8.6" fill="#222" stroke="#222" stroke-width="0.2" text-anchor="middle" textLength="28.7" lengthAdjust="spacingAndGlyphs">Viability</text>
<text x="169.40" y="619.70" font-size="6.8" fill="#222" stroke="#222" stroke-width="0.2" text-anchor="middle" textLength="16.60" lengthAdjust="spacingAndGlyphs">#760</text>
<line x1="156.90" y1="636.10" x2="172.50" y2="636.10" stroke="#222" stroke-width="0.9"/>
<line x1="156.90" y1="634.70" x2="156.90" y2="637.50" stroke="#222" stroke-width="1.1"/>
<line x1="172.50" y1="634.70" x2="172.50" y2="637.50" stroke="#222" stroke-width="1.1"/>
<circle cx="160.80" cy="633.00" r="0.62" fill="#222"/>
<path d="M160.80,632.07 v1.86 M159.99,632.53 l1.61,0.93 M159.99,633.47 l1.61,-0.93" stroke="#222" stroke-width="0.43" fill="none"/>
<circle cx="163.40" cy="633.00" r="0.62" fill="#222"/>
<path d="M163.40,632.07 v1.86 M162.59,632.53 l1.61,0.93 M162.59,633.47 l1.61,-0.93" stroke="#222" stroke-width="0.43" fill="none"/>
<circle cx="166.00" cy="633.00" r="0.62" fill="#222"/>
<path d="M166.00,632.07 v1.86 M165.19,632.53 l1.61,0.93 M165.19,633.47 l1.61,-0.93" stroke="#222" stroke-width="0.43" fill="none"/>
<circle cx="168.60" cy="633.00" r="0.62" fill="#222"/>
<path d="M168.60,632.07 v1.86 M167.79,632.53 l1.61,0.93 M167.79,633.47 l1.61,-0.93" stroke="#222" stroke-width="0.43" fill="none"/>
<rect x="245.90" y="641.20" width="7.00" height="56.40" fill="#d9a298"/>
<rect x="257.00" y="685.19" width="7.00" height="12.41" fill="#a5aad0"/>
<rect x="268.50" y="693.09" width="7.00" height="4.51" fill="#c6e0ab"/>
<line x1="260.50" y1="695.34" x2="260.50" y2="675.04" stroke="#23509a" stroke-width="0.9"/>
<line x1="258.70" y1="695.34" x2="262.30" y2="695.34" stroke="#23509a" stroke-width="0.9"/>
<line x1="258.70" y1="675.04" x2="262.30" y2="675.04" stroke="#23509a" stroke-width="0.9"/>
<line x1="272.00" y1="697.60" x2="272.00" y2="685.19" stroke="#4aa23c" stroke-width="0.9"/>
<line x1="270.20" y1="697.60" x2="273.80" y2="697.60" stroke="#4aa23c" stroke-width="0.9"/>
<line x1="270.20" y1="685.19" x2="273.80" y2="685.19" stroke="#4aa23c" stroke-width="0.9"/>
<rect x="245.90" y="640.40" width="7.00" height="1.60" fill="#b5163a"/>
<circle cx="260.50" cy="668.27" r="0.95" fill="#23509a"/>
<circle cx="260.50" cy="680.68" r="0.95" fill="#23509a"/>
<circle cx="260.50" cy="689.14" r="0.95" fill="#23509a"/>
<circle cx="260.50" cy="694.78" r="0.95" fill="#23509a"/>
<circle cx="272.00" cy="685.19" r="0.95" fill="#4aa23c"/>
<circle cx="272.00" cy="690.83" r="0.95" fill="#4aa23c"/>
<circle cx="272.00" cy="695.91" r="0.95" fill="#4aa23c"/>
<line x1="241.70" y1="637.60" x2="241.70" y2="698.10" stroke="#111" stroke-width="1.1"/>
<line x1="241.20" y1="697.60" x2="280.00" y2="697.60" stroke="#111" stroke-width="1.1"/>
<line x1="237.90" y1="697.60" x2="241.70" y2="697.60" stroke="#111" stroke-width="0.9"/>
<text x="234.40" y="700.30" font-size="7.7" fill="#222" stroke="#222" stroke-width="0.2" text-anchor="end" textLength="4.10" lengthAdjust="spacingAndGlyphs">0</text>
<line x1="237.90" y1="686.32" x2="241.70" y2="686.32" stroke="#111" stroke-width="0.9"/>
<text x="234.40" y="689.02" font-size="7.7" fill="#222" stroke="#222" stroke-width="0.2" text-anchor="end" textLength="8.20" lengthAdjust="spacingAndGlyphs">20</text>
<line x1="237.90" y1="675.04" x2="241.70" y2="675.04" stroke="#111" stroke-width="0.9"/>
<text x="234.40" y="677.74" font-size="7.7" fill="#222" stroke="#222" stroke-width="0.2" text-anchor="end" textLength="8.20" lengthAdjust="spacingAndGlyphs">40</text>
<line x1="237.90" y1="663.76" x2="241.70" y2="663.76" stroke="#111" stroke-width="0.9"/>
<text x="234.40" y="666.46" font-size="7.7" fill="#222" stroke="#222" stroke-width="0.2" text-anchor="end" textLength="8.20" lengthAdjust="spacingAndGlyphs">60</text>
<line x1="237.90" y1="652.48" x2="241.70" y2="652.48" stroke="#111" stroke-width="0.9"/>
<text x="234.40" y="655.18" font-size="7.7" fill="#222" stroke="#222" stroke-width="0.2" text-anchor="end" textLength="8.20" lengthAdjust="spacingAndGlyphs">80</text>
<line x1="237.90" y1="641.20" x2="241.70" y2="641.20" stroke="#111" stroke-width="0.9"/>
<text x="234.40" y="643.90" font-size="7.7" fill="#222" stroke="#222" stroke-width="0.2" text-anchor="end" textLength="12.30" lengthAdjust="spacingAndGlyphs">100</text>
<line x1="249.40" y1="697.60" x2="249.40" y2="700.80" stroke="#111" stroke-width="0.9"/>
<line x1="260.50" y1="697.60" x2="260.50" y2="700.80" stroke="#111" stroke-width="0.9"/>
<line x1="272.00" y1="697.60" x2="272.00" y2="700.80" stroke="#111" stroke-width="0.9"/>
<text transform="translate(215.70,667.90) rotate(-90)" font-size="8.6" fill="#222" stroke="#222" stroke-width="0.2" text-anchor="middle" textLength="28.7" lengthAdjust="spacingAndGlyphs">Viability</text>
<text x="260.40" y="619.70" font-size="6.8" fill="#222" stroke="#222" stroke-width="0.2" text-anchor="middle" textLength="20.75" lengthAdjust="spacingAndGlyphs">#1271</text>
<line x1="247.80" y1="636.10" x2="263.90" y2="636.10" stroke="#222" stroke-width="0.9"/>
<line x1="247.80" y1="634.70" x2="247.80" y2="637.50" stroke="#222" stroke-width="1.1"/>
<line x1="263.90" y1="634.70" x2="263.90" y2="637.50" stroke="#222" stroke-width="1.1"/>
<circle cx="251.95" cy="633.00" r="0.62" fill="#222"/>
<path d="M251.95,632.07 v1.86 M251.14,632.53 l1.61,0.93 M251.14,633.47 l1.61,-0.93" stroke="#222" stroke-width="0.43" fill="none"/>
<circle cx="254.55" cy="633.00" r="0.62" fill="#222"/>
<path d="M254.55,632.07 v1.86 M253.74,632.53 l1.61,0.93 M253.74,633.47 l1.61,-0.93" stroke="#222" stroke-width="0.43" fill="none"/>
<circle cx="257.15" cy="633.00" r="0.62" fill="#222"/>
<path d="M257.15,632.07 v1.86 M256.34,632.53 l1.61,0.93 M256.34,633.47 l1.61,-0.93" stroke="#222" stroke-width="0.43" fill="none"/>
<circle cx="259.75" cy="633.00" r="0.62" fill="#222"/>
<path d="M259.75,632.07 v1.86 M258.94,632.53 l1.61,0.93 M258.94,633.47 l1.61,-0.93" stroke="#222" stroke-width="0.43" fill="none"/>
<line x1="259.90" y1="663.00" x2="275.40" y2="663.00" stroke="#222" stroke-width="0.9"/>
<line x1="259.90" y1="661.60" x2="259.90" y2="664.40" stroke="#222" stroke-width="1.1"/>
<line x1="275.40" y1="661.60" x2="275.40" y2="664.40" stroke="#222" stroke-width="1.1"/>
<text x="267.65" y="660.10" font-size="5.6" fill="#222" stroke="#222" stroke-width="0.15" text-anchor="middle">ns</text>
<rect x="336.80" y="636.10" width="7.80" height="61.80" fill="#d9a298"/>
<rect x="349.10" y="683.07" width="7.80" height="14.83" fill="#a5aad0"/>
<rect x="361.20" y="692.96" width="7.80" height="4.94" fill="#c6e0ab"/>
<line x1="353.00" y1="684.30" x2="353.00" y2="681.83" stroke="#23509a" stroke-width="0.9"/>
<line x1="351.20" y1="684.30" x2="354.80" y2="684.30" stroke="#23509a" stroke-width="0.9"/>
<line x1="351.20" y1="681.83" x2="354.80" y2="681.83" stroke="#23509a" stroke-width="0.9"/>
<line x1="365.10" y1="695.43" x2="365.10" y2="689.25" stroke="#4aa23c" stroke-width="0.9"/>
<line x1="363.30" y1="695.43" x2="366.90" y2="695.43" stroke="#4aa23c" stroke-width="0.9"/>
<line x1="363.30" y1="689.25" x2="366.90" y2="689.25" stroke="#4aa23c" stroke-width="0.9"/>
<circle cx="337.70" cy="636.30" r="0.95" fill="#c0163a"/>
<circle cx="339.70" cy="636.30" r="0.95" fill="#c0163a"/>
<circle cx="341.70" cy="636.30" r="0.95" fill="#c0163a"/>
<circle cx="343.70" cy="636.30" r="0.95" fill="#c0163a"/>
<circle cx="351.50" cy="682.45" r="0.95" fill="#23509a"/>
<circle cx="354.50" cy="682.45" r="0.95" fill="#23509a"/>
<circle cx="365.10" cy="689.25" r="0.95" fill="#4aa23c"/>
<circle cx="363.60" cy="692.96" r="0.95" fill="#4aa23c"/>
<circle cx="366.60" cy="694.19" r="0.95" fill="#4aa23c"/>
<line x1="332.60" y1="632.50" x2="332.60" y2="698.40" stroke="#111" stroke-width="1.1"/>
<line x1="332.10" y1="697.90" x2="373.10" y2="697.90" stroke="#111" stroke-width="1.1"/>
<line x1="328.80" y1="697.90" x2="332.60" y2="697.90" stroke="#111" stroke-width="0.9"/>
<text x="325.30" y="700.60" font-size="7.7" fill="#222" stroke="#222" stroke-width="0.2" text-anchor="end" textLength="4.10" lengthAdjust="spacingAndGlyphs">0</text>
<line x1="328.80" y1="685.54" x2="332.60" y2="685.54" stroke="#111" stroke-width="0.9"/>
<text x="325.30" y="688.24" font-size="7.7" fill="#222" stroke="#222" stroke-width="0.2" text-anchor="end" textLength="8.20" lengthAdjust="spacingAndGlyphs">20</text>
<line x1="328.80" y1="673.18" x2="332.60" y2="673.18" stroke="#111" stroke-width="0.9"/>
<text x="325.30" y="675.88" font-size="7.7" fill="#222" stroke="#222" stroke-width="0.2" text-anchor="end" textLength="8.20" lengthAdjust="spacingAndGlyphs">40</text>
<line x1="328.80" y1="660.82" x2="332.60" y2="660.82" stroke="#111" stroke-width="0.9"/>
<text x="325.30" y="663.52" font-size="7.7" fill="#222" stroke="#222" stroke-width="0.2" text-anchor="end" textLength="8.20" lengthAdjust="spacingAndGlyphs">60</text>
<line x1="328.80" y1="648.46" x2="332.60" y2="648.46" stroke="#111" stroke-width="0.9"/>
<text x="325.30" y="651.16" font-size="7.7" fill="#222" stroke="#222" stroke-width="0.2" text-anchor="end" textLength="8.20" lengthAdjust="spacingAndGlyphs">80</text>
<line x1="328.80" y1="636.10" x2="332.60" y2="636.10" stroke="#111" stroke-width="0.9"/>
<text x="325.30" y="638.80" font-size="7.7" fill="#222" stroke="#222" stroke-width="0.2" text-anchor="end" textLength="12.30" lengthAdjust="spacingAndGlyphs">100</text>
<line x1="340.70" y1="697.90" x2="340.70" y2="701.10" stroke="#111" stroke-width="0.9"/>
<line x1="353.00" y1="697.90" x2="353.00" y2="701.10" stroke="#111" stroke-width="0.9"/>
<line x1="365.10" y1="697.90" x2="365.10" y2="701.10" stroke="#111" stroke-width="0.9"/>
<text transform="translate(306.60,665.50) rotate(-90)" font-size="8.6" fill="#222" stroke="#222" stroke-width="0.2" text-anchor="middle" textLength="28.7" lengthAdjust="spacingAndGlyphs">Viability</text>
<text x="353.00" y="620.00" font-size="6.8" fill="#222" stroke="#222" stroke-width="0.2" text-anchor="middle" textLength="16.60" lengthAdjust="spacingAndGlyphs">#923</text>
<line x1="339.50" y1="631.00" x2="355.90" y2="631.00" stroke="#222" stroke-width="0.9"/>
<line x1="339.50" y1="629.60" x2="339.50" y2="632.40" stroke="#222" stroke-width="1.1"/>
<line x1="355.90" y1="629.60" x2="355.90" y2="632.40" stroke="#222" stroke-width="1.1"/>
<circle cx="343.80" cy="627.90" r="0.62" fill="#222"/>
<path d="M343.80,626.97 v1.86 M342.99,627.43 l1.61,0.93 M342.99,628.37 l1.61,-0.93" stroke="#222" stroke-width="0.43" fill="none"/>
<circle cx="346.40" cy="627.90" r="0.62" fill="#222"/>
<path d="M346.40,626.97 v1.86 M345.59,627.43 l1.61,0.93 M345.59,628.37 l1.61,-0.93" stroke="#222" stroke-width="0.43" fill="none"/>
<circle cx="349.00" cy="627.90" r="0.62" fill="#222"/>
<path d="M349.00,626.97 v1.86 M348.19,627.43 l1.61,0.93 M348.19,628.37 l1.61,-0.93" stroke="#222" stroke-width="0.43" fill="none"/>
<circle cx="351.60" cy="627.90" r="0.62" fill="#222"/>
<path d="M351.60,626.97 v1.86 M350.79,627.43 l1.61,0.93 M350.79,628.37 l1.61,-0.93" stroke="#222" stroke-width="0.43" fill="none"/>
<line x1="351.60" y1="673.30" x2="367.20" y2="673.30" stroke="#222" stroke-width="0.9"/>
<line x1="351.60" y1="671.90" x2="351.60" y2="674.70" stroke="#222" stroke-width="1.1"/>
<line x1="367.20" y1="671.90" x2="367.20" y2="674.70" stroke="#222" stroke-width="1.1"/>
<circle cx="356.80" cy="670.20" r="0.62" fill="#222"/>
<path d="M356.80,669.27 v1.86 M355.99,669.73 l1.61,0.93 M355.99,670.66 l1.61,-0.93" stroke="#222" stroke-width="0.43" fill="none"/>
<circle cx="359.40" cy="670.20" r="0.62" fill="#222"/>
<path d="M359.40,669.27 v1.86 M358.59,669.73 l1.61,0.93 M358.59,670.66 l1.61,-0.93" stroke="#222" stroke-width="0.43" fill="none"/>
<circle cx="362.00" cy="670.20" r="0.62" fill="#222"/>
<path d="M362.00,669.27 v1.86 M361.19,669.73 l1.61,0.93 M361.19,670.66 l1.61,-0.93" stroke="#222" stroke-width="0.43" fill="none"/>
<rect x="63.90" y="755.30" width="7.00" height="56.80" fill="#d9a298"/>
<rect x="75.20" y="778.02" width="7.00" height="34.08" fill="#a5aad0"/>
<rect x="86.40" y="797.90" width="7.00" height="14.20" fill="#c6e0ab"/>
<line x1="78.70" y1="779.72" x2="78.70" y2="775.75" stroke="#23509a" stroke-width="0.9"/>
<line x1="76.90" y1="779.72" x2="80.50" y2="779.72" stroke="#23509a" stroke-width="0.9"/>
<line x1="76.90" y1="775.75" x2="80.50" y2="775.75" stroke="#23509a" stroke-width="0.9"/>
<line x1="89.90" y1="800.74" x2="89.90" y2="793.92" stroke="#4aa23c" stroke-width="0.9"/>
<line x1="88.10" y1="800.74" x2="91.70" y2="800.74" stroke="#4aa23c" stroke-width="0.9"/>
<line x1="88.10" y1="793.92" x2="91.70" y2="793.92" stroke="#4aa23c" stroke-width="0.9"/>
<rect x="63.90" y="754.50" width="7.00" height="1.60" fill="#b5163a"/>
<circle cx="77.70" cy="776.32" r="0.95" fill="#23509a"/>
<circle cx="79.70" cy="778.02" r="0.95" fill="#23509a"/>
<circle cx="78.70" cy="779.16" r="0.95" fill="#23509a"/>
<circle cx="89.90" cy="793.92" r="0.95" fill="#4aa23c"/>
<circle cx="88.90" cy="797.90" r="0.95" fill="#4aa23c"/>
<circle cx="90.90" cy="799.60" r="0.95" fill="#4aa23c"/>
<line x1="60.30" y1="751.70" x2="60.30" y2="812.60" stroke="#111" stroke-width="1.1"/>
<line x1="59.80" y1="812.10" x2="97.90" y2="812.10" stroke="#111" stroke-width="1.1"/>
<line x1="56.50" y1="812.10" x2="60.30" y2="812.10" stroke="#111" stroke-width="0.9"/>
<text x="53.00" y="814.80" font-size="7.7" fill="#222" stroke="#222" stroke-width="0.2" text-anchor="end" textLength="4.10" lengthAdjust="spacingAndGlyphs">0</text>
<line x1="56.50" y1="800.74" x2="60.30" y2="800.74" stroke="#111" stroke-width="0.9"/>
<text x="53.00" y="803.44" font-size="7.7" fill="#222" stroke="#222" stroke-width="0.2" text-anchor="end" textLength="8.20" lengthAdjust="spacingAndGlyphs">20</text>
<line x1="56.50" y1="789.38" x2="60.30" y2="789.38" stroke="#111" stroke-width="0.9"/>
<text x="53.00" y="792.08" font-size="7.7" fill="#222" stroke="#222" stroke-width="0.2" text-anchor="end" textLength="8.20" lengthAdjust="spacingAndGlyphs">40</text>
<line x1="56.50" y1="778.02" x2="60.30" y2="778.02" stroke="#111" stroke-width="0.9"/>
<text x="53.00" y="780.72" font-size="7.7" fill="#222" stroke="#222" stroke-width="0.2" text-anchor="end" textLength="8.20" lengthAdjust="spacingAndGlyphs">60</text>
<line x1="56.50" y1="766.66" x2="60.30" y2="766.66" stroke="#111" stroke-width="0.9"/>
<text x="53.00" y="769.36" font-size="7.7" fill="#222" stroke="#222" stroke-width="0.2" text-anchor="end" textLength="8.20" lengthAdjust="spacingAndGlyphs">80</text>
<line x1="56.50" y1="755.30" x2="60.30" y2="755.30" stroke="#111" stroke-width="0.9"/>
<text x="53.00" y="758.00" font-size="7.7" fill="#222" stroke="#222" stroke-width="0.2" text-anchor="end" textLength="12.30" lengthAdjust="spacingAndGlyphs">100</text>
<line x1="67.40" y1="812.10" x2="67.40" y2="815.30" stroke="#111" stroke-width="0.9"/>
<line x1="78.70" y1="812.10" x2="78.70" y2="815.30" stroke="#111" stroke-width="0.9"/>
<line x1="89.90" y1="812.10" x2="89.90" y2="815.30" stroke="#111" stroke-width="0.9"/>
<text transform="translate(34.30,782.20) rotate(-90)" font-size="8.6" fill="#222" stroke="#222" stroke-width="0.2" text-anchor="middle" textLength="28.7" lengthAdjust="spacingAndGlyphs">Viability</text>
<text x="78.70" y="738.00" font-size="6.8" fill="#222" stroke="#222" stroke-width="0.2" text-anchor="middle" textLength="16.60" lengthAdjust="spacingAndGlyphs">#643</text>
<line x1="66.40" y1="750.80" x2="81.60" y2="750.80" stroke="#222" stroke-width="0.9"/>
<line x1="66.40" y1="749.40" x2="66.40" y2="752.20" stroke="#222" stroke-width="1.1"/>
<line x1="81.60" y1="749.40" x2="81.60" y2="752.20" stroke="#222" stroke-width="1.1"/>
<circle cx="70.10" cy="747.70" r="0.62" fill="#222"/>
<path d="M70.10,746.77 v1.86 M69.29,747.23 l1.61,0.93 M69.29,748.16 l1.61,-0.93" stroke="#222" stroke-width="0.43" fill="none"/>
<circle cx="72.70" cy="747.70" r="0.62" fill="#222"/>
<path d="M72.70,746.77 v1.86 M71.89,747.23 l1.61,0.93 M71.89,748.16 l1.61,-0.93" stroke="#222" stroke-width="0.43" fill="none"/>
<circle cx="75.30" cy="747.70" r="0.62" fill="#222"/>
<path d="M75.30,746.77 v1.86 M74.49,747.23 l1.61,0.93 M74.49,748.16 l1.61,-0.93" stroke="#222" stroke-width="0.43" fill="none"/>
<circle cx="77.90" cy="747.70" r="0.62" fill="#222"/>
<path d="M77.90,746.77 v1.86 M77.09,747.23 l1.61,0.93 M77.09,748.16 l1.61,-0.93" stroke="#222" stroke-width="0.43" fill="none"/>
<line x1="78.10" y1="769.70" x2="93.70" y2="769.70" stroke="#222" stroke-width="0.9"/>
<line x1="78.10" y1="768.30" x2="78.10" y2="771.10" stroke="#222" stroke-width="1.1"/>
<line x1="93.70" y1="768.30" x2="93.70" y2="771.10" stroke="#222" stroke-width="1.1"/>
<circle cx="82.00" cy="766.60" r="0.62" fill="#222"/>
<path d="M82.00,765.67 v1.86 M81.19,766.13 l1.61,0.93 M81.19,767.07 l1.61,-0.93" stroke="#222" stroke-width="0.43" fill="none"/>
<circle cx="84.60" cy="766.60" r="0.62" fill="#222"/>
<path d="M84.60,765.67 v1.86 M83.79,766.13 l1.61,0.93 M83.79,767.07 l1.61,-0.93" stroke="#222" stroke-width="0.43" fill="none"/>
<circle cx="87.20" cy="766.60" r="0.62" fill="#222"/>
<path d="M87.20,765.67 v1.86 M86.39,766.13 l1.61,0.93 M86.39,767.07 l1.61,-0.93" stroke="#222" stroke-width="0.43" fill="none"/>
<circle cx="89.80" cy="766.60" r="0.62" fill="#222"/>
<path d="M89.80,765.67 v1.86 M88.99,766.13 l1.61,0.93 M88.99,767.07 l1.61,-0.93" stroke="#222" stroke-width="0.43" fill="none"/>
<rect x="155.30" y="755.30" width="7.00" height="56.80" fill="#d9a298"/>
<rect x="166.50" y="773.48" width="7.00" height="38.62" fill="#a5aad0"/>
<rect x="177.80" y="789.95" width="7.00" height="22.15" fill="#c6e0ab"/>
<line x1="170.00" y1="778.02" x2="170.00" y2="768.36" stroke="#23509a" stroke-width="0.9"/>
<line x1="168.20" y1="778.02" x2="171.80" y2="778.02" stroke="#23509a" stroke-width="0.9"/>
<line x1="168.20" y1="768.36" x2="171.80" y2="768.36" stroke="#23509a" stroke-width="0.9"/>
<line x1="181.30" y1="797.33" x2="181.30" y2="782.00" stroke="#4aa23c" stroke-width="0.9"/>
<line x1="179.50" y1="797.33" x2="183.10" y2="797.33" stroke="#4aa23c" stroke-width="0.9"/>
<line x1="179.50" y1="782.00" x2="183.10" y2="782.00" stroke="#4aa23c" stroke-width="0.9"/>
<rect x="155.30" y="754.50" width="7.00" height="1.60" fill="#b5163a"/>
<circle cx="170.00" cy="768.36" r="0.95" fill="#23509a"/>
<circle cx="170.00" cy="773.48" r="0.95" fill="#23509a"/>
<circle cx="170.00" cy="778.02" r="0.95" fill="#23509a"/>
<circle cx="181.30" cy="782.00" r="0.95" fill="#4aa23c"/>
<circle cx="181.30" cy="789.38" r="0.95" fill="#4aa23c"/>
<circle cx="181.30" cy="797.33" r="0.95" fill="#4aa23c"/>
<line x1="151.40" y1="751.70" x2="151.40" y2="812.60" stroke="#111" stroke-width="1.1"/>
<line x1="150.90" y1="812.10" x2="189.30" y2="812.10" stroke="#111" stroke-width="1.1"/>
<line x1="147.60" y1="812.10" x2="151.40" y2="812.10" stroke="#111" stroke-width="0.9"/>
<text x="144.10" y="814.80" font-size="7.7" fill="#222" stroke="#222" stroke-width="0.2" text-anchor="end" textLength="4.10" lengthAdjust="spacingAndGlyphs">0</text>
<line x1="147.60" y1="800.74" x2="151.40" y2="800.74" stroke="#111" stroke-width="0.9"/>
<text x="144.10" y="803.44" font-size="7.7" fill="#222" stroke="#222" stroke-width="0.2" text-anchor="end" textLength="8.20" lengthAdjust="spacingAndGlyphs">20</text>
<line x1="147.60" y1="789.38" x2="151.40" y2="789.38" stroke="#111" stroke-width="0.9"/>
<text x="144.10" y="792.08" font-size="7.7" fill="#222" stroke="#222" stroke-width="0.2" text-anchor="end" textLength="8.20" lengthAdjust="spacingAndGlyphs">40</text>
<line x1="147.60" y1="778.02" x2="151.40" y2="778.02" stroke="#111" stroke-width="0.9"/>
<text x="144.10" y="780.72" font-size="7.7" fill="#222" stroke="#222" stroke-width="0.2" text-anchor="end" textLength="8.20" lengthAdjust="spacingAndGlyphs">60</text>
<line x1="147.60" y1="766.66" x2="151.40" y2="766.66" stroke="#111" stroke-width="0.9"/>
<text x="144.10" y="769.36" font-size="7.7" fill="#222" stroke="#222" stroke-width="0.2" text-anchor="end" textLength="8.20" lengthAdjust="spacingAndGlyphs">80</text>
<line x1="147.60" y1="755.30" x2="151.40" y2="755.30" stroke="#111" stroke-width="0.9"/>
<text x="144.10" y="758.00" font-size="7.7" fill="#222" stroke="#222" stroke-width="0.2" text-anchor="end" textLength="12.30" lengthAdjust="spacingAndGlyphs">100</text>
<line x1="158.80" y1="812.10" x2="158.80" y2="815.30" stroke="#111" stroke-width="0.9"/>
<line x1="170.00" y1="812.10" x2="170.00" y2="815.30" stroke="#111" stroke-width="0.9"/>
<line x1="181.30" y1="812.10" x2="181.30" y2="815.30" stroke="#111" stroke-width="0.9"/>
<text transform="translate(125.40,782.20) rotate(-90)" font-size="8.6" fill="#222" stroke="#222" stroke-width="0.2" text-anchor="middle" textLength="28.7" lengthAdjust="spacingAndGlyphs">Viability</text>
<text x="169.40" y="738.00" font-size="6.8" fill="#222" stroke="#222" stroke-width="0.2" text-anchor="middle" textLength="16.60" lengthAdjust="spacingAndGlyphs">#758</text>
<line x1="157.20" y1="750.80" x2="172.50" y2="750.80" stroke="#222" stroke-width="0.9"/>
<line x1="157.20" y1="749.40" x2="157.20" y2="752.20" stroke="#222" stroke-width="1.1"/>
<line x1="172.50" y1="749.40" x2="172.50" y2="752.20" stroke="#222" stroke-width="1.1"/>
<circle cx="160.95" cy="747.70" r="0.62" fill="#222"/>
<path d="M160.95,746.77 v1.86 M160.14,747.23 l1.61,0.93 M160.14,748.16 l1.61,-0.93" stroke="#222" stroke-width="0.43" fill="none"/>
<circle cx="163.55" cy="747.70" r="0.62" fill="#222"/>
<path d="M163.55,746.77 v1.86 M162.74,747.23 l1.61,0.93 M162.74,748.16 l1.61,-0.93" stroke="#222" stroke-width="0.43" fill="none"/>
<circle cx="166.15" cy="747.70" r="0.62" fill="#222"/>
<path d="M166.15,746.77 v1.86 M165.34,747.23 l1.61,0.93 M165.34,748.16 l1.61,-0.93" stroke="#222" stroke-width="0.43" fill="none"/>
<circle cx="168.75" cy="747.70" r="0.62" fill="#222"/>
<path d="M168.75,746.77 v1.86 M167.94,747.23 l1.61,0.93 M167.94,748.16 l1.61,-0.93" stroke="#222" stroke-width="0.43" fill="none"/>
<line x1="169.40" y1="763.80" x2="184.60" y2="763.80" stroke="#222" stroke-width="0.9"/>
<line x1="169.40" y1="762.40" x2="169.40" y2="765.20" stroke="#222" stroke-width="1.1"/>
<line x1="184.60" y1="762.40" x2="184.60" y2="765.20" stroke="#222" stroke-width="1.1"/>
<circle cx="175.70" cy="760.70" r="0.62" fill="#222"/>
<path d="M175.70,759.77 v1.86 M174.89,760.23 l1.61,0.93 M174.89,761.16 l1.61,-0.93" stroke="#222" stroke-width="0.43" fill="none"/>
<circle cx="178.30" cy="760.70" r="0.62" fill="#222"/>
<path d="M178.30,759.77 v1.86 M177.49,760.23 l1.61,0.93 M177.49,761.16 l1.61,-0.93" stroke="#222" stroke-width="0.43" fill="none"/>
<rect x="245.90" y="755.30" width="7.00" height="56.80" fill="#d9a298"/>
<rect x="257.00" y="775.18" width="7.00" height="36.92" fill="#a5aad0"/>
<rect x="268.50" y="782.56" width="7.00" height="29.54" fill="#c6e0ab"/>
<line x1="260.50" y1="785.40" x2="260.50" y2="764.96" stroke="#23509a" stroke-width="0.9"/>
<line x1="258.70" y1="785.40" x2="262.30" y2="785.40" stroke="#23509a" stroke-width="0.9"/>
<line x1="258.70" y1="764.96" x2="262.30" y2="764.96" stroke="#23509a" stroke-width="0.9"/>
<line x1="272.00" y1="784.84" x2="272.00" y2="780.29" stroke="#4aa23c" stroke-width="0.9"/>
<line x1="270.20" y1="784.84" x2="273.80" y2="784.84" stroke="#4aa23c" stroke-width="0.9"/>
<line x1="270.20" y1="780.29" x2="273.80" y2="780.29" stroke="#4aa23c" stroke-width="0.9"/>
<rect x="245.90" y="754.50" width="7.00" height="1.60" fill="#b5163a"/>
<circle cx="260.50" cy="764.96" r="0.95" fill="#23509a"/>
<circle cx="260.50" cy="771.20" r="0.95" fill="#23509a"/>
<circle cx="260.50" cy="776.88" r="0.95" fill="#23509a"/>
<circle cx="260.50" cy="789.38" r="0.95" fill="#23509a"/>
<circle cx="270.50" cy="780.29" r="0.95" fill="#4aa23c"/>
<circle cx="273.50" cy="780.86" r="0.95" fill="#4aa23c"/>
<circle cx="272.00" cy="784.84" r="0.95" fill="#4aa23c"/>
<line x1="241.70" y1="751.70" x2="241.70" y2="812.60" stroke="#111" stroke-width="1.1"/>
<line x1="241.20" y1="812.10" x2="280.00" y2="812.10" stroke="#111" stroke-width="1.1"/>
<line x1="237.90" y1="812.10" x2="241.70" y2="812.10" stroke="#111" stroke-width="0.9"/>
<text x="234.40" y="814.80" font-size="7.7" fill="#222" stroke="#222" stroke-width="0.2" text-anchor="end" textLength="4.10" lengthAdjust="spacingAndGlyphs">0</text>
<line x1="237.90" y1="800.74" x2="241.70" y2="800.74" stroke="#111" stroke-width="0.9"/>
<text x="234.40" y="803.44" font-size="7.7" fill="#222" stroke="#222" stroke-width="0.2" text-anchor="end" textLength="8.20" lengthAdjust="spacingAndGlyphs">20</text>
<line x1="237.90" y1="789.38" x2="241.70" y2="789.38" stroke="#111" stroke-width="0.9"/>
<text x="234.40" y="792.08" font-size="7.7" fill="#222" stroke="#222" stroke-width="0.2" text-anchor="end" textLength="8.20" lengthAdjust="spacingAndGlyphs">40</text>
<line x1="237.90" y1="778.02" x2="241.70" y2="778.02" stroke="#111" stroke-width="0.9"/>
<text x="234.40" y="780.72" font-size="7.7" fill="#222" stroke="#222" stroke-width="0.2" text-anchor="end" textLength="8.20" lengthAdjust="spacingAndGlyphs">60</text>
<line x1="237.90" y1="766.66" x2="241.70" y2="766.66" stroke="#111" stroke-width="0.9"/>
<text x="234.40" y="769.36" font-size="7.7" fill="#222" stroke="#222" stroke-width="0.2" text-anchor="end" textLength="8.20" lengthAdjust="spacingAndGlyphs">80</text>
<line x1="237.90" y1="755.30" x2="241.70" y2="755.30" stroke="#111" stroke-width="0.9"/>
<text x="234.40" y="758.00" font-size="7.7" fill="#222" stroke="#222" stroke-width="0.2" text-anchor="end" textLength="12.30" lengthAdjust="spacingAndGlyphs">100</text>
<line x1="249.40" y1="812.10" x2="249.40" y2="815.30" stroke="#111" stroke-width="0.9"/>
<line x1="260.50" y1="812.10" x2="260.50" y2="815.30" stroke="#111" stroke-width="0.9"/>
<line x1="272.00" y1="812.10" x2="272.00" y2="815.30" stroke="#111" stroke-width="0.9"/>
<text transform="translate(215.70,782.20) rotate(-90)" font-size="8.6" fill="#222" stroke="#222" stroke-width="0.2" text-anchor="middle" textLength="28.7" lengthAdjust="spacingAndGlyphs">Viability</text>
<text x="260.40" y="738.00" font-size="6.8" fill="#222" stroke="#222" stroke-width="0.2" text-anchor="middle" textLength="16.60" lengthAdjust="spacingAndGlyphs">#691</text>
<line x1="248.30" y1="750.80" x2="263.30" y2="750.80" stroke="#222" stroke-width="0.9"/>
<line x1="248.30" y1="749.40" x2="248.30" y2="752.20" stroke="#222" stroke-width="1.1"/>
<line x1="263.30" y1="749.40" x2="263.30" y2="752.20" stroke="#222" stroke-width="1.1"/>
<circle cx="253.20" cy="747.70" r="0.62" fill="#222"/>
<path d="M253.20,746.77 v1.86 M252.39,747.23 l1.61,0.93 M252.39,748.16 l1.61,-0.93" stroke="#222" stroke-width="0.43" fill="none"/>
<circle cx="255.80" cy="747.70" r="0.62" fill="#222"/>
<path d="M255.80,746.77 v1.86 M254.99,747.23 l1.61,0.93 M254.99,748.16 l1.61,-0.93" stroke="#222" stroke-width="0.43" fill="none"/>
<circle cx="258.40" cy="747.70" r="0.62" fill="#222"/>
<path d="M258.40,746.77 v1.86 M257.59,747.23 l1.61,0.93 M257.59,748.16 l1.61,-0.93" stroke="#222" stroke-width="0.43" fill="none"/>
<line x1="263.30" y1="760.10" x2="278.90" y2="760.10" stroke="#222" stroke-width="0.9"/>
<line x1="263.30" y1="758.70" x2="263.30" y2="761.50" stroke="#222" stroke-width="1.1"/>
<line x1="278.90" y1="758.70" x2="278.90" y2="761.50" stroke="#222" stroke-width="1.1"/>
<text x="271.10" y="757.20" font-size="5.6" fill="#222" stroke="#222" stroke-width="0.15" text-anchor="middle">ns</text>
<rect x="336.70" y="755.10" width="7.00" height="57.10" fill="#d9a298"/>
<rect x="348.10" y="780.80" width="7.00" height="31.41" fill="#a5aad0"/>
<rect x="359.70" y="797.35" width="7.00" height="14.85" fill="#c6e0ab"/>
<line x1="351.60" y1="785.93" x2="351.60" y2="775.66" stroke="#23509a" stroke-width="0.9"/>
<line x1="349.80" y1="785.93" x2="353.40" y2="785.93" stroke="#23509a" stroke-width="0.9"/>
<line x1="349.80" y1="775.66" x2="353.40" y2="775.66" stroke="#23509a" stroke-width="0.9"/>
<line x1="363.20" y1="801.92" x2="363.20" y2="791.64" stroke="#4aa23c" stroke-width="0.9"/>
<line x1="361.40" y1="801.92" x2="365.00" y2="801.92" stroke="#4aa23c" stroke-width="0.9"/>
<line x1="361.40" y1="791.64" x2="365.00" y2="791.64" stroke="#4aa23c" stroke-width="0.9"/>
<rect x="336.70" y="754.30" width="7.00" height="1.60" fill="#b5163a"/>
<circle cx="351.60" cy="775.66" r="0.95" fill="#23509a"/>
<circle cx="351.60" cy="780.80" r="0.95" fill="#23509a"/>
<circle cx="351.60" cy="785.36" r="0.95" fill="#23509a"/>
<circle cx="363.20" cy="791.64" r="0.95" fill="#4aa23c"/>
<circle cx="363.20" cy="797.35" r="0.95" fill="#4aa23c"/>
<circle cx="363.20" cy="801.35" r="0.95" fill="#4aa23c"/>
<line x1="332.60" y1="751.50" x2="332.60" y2="812.70" stroke="#111" stroke-width="1.1"/>
<line x1="332.10" y1="812.20" x2="371.20" y2="812.20" stroke="#111" stroke-width="1.1"/>
<line x1="328.80" y1="812.20" x2="332.60" y2="812.20" stroke="#111" stroke-width="0.9"/>
<text x="325.30" y="814.90" font-size="7.7" fill="#222" stroke="#222" stroke-width="0.2" text-anchor="end" textLength="4.10" lengthAdjust="spacingAndGlyphs">0</text>
<line x1="328.80" y1="800.78" x2="332.60" y2="800.78" stroke="#111" stroke-width="0.9"/>
<text x="325.30" y="803.48" font-size="7.7" fill="#222" stroke="#222" stroke-width="0.2" text-anchor="end" textLength="8.20" lengthAdjust="spacingAndGlyphs">20</text>
<line x1="328.80" y1="789.36" x2="332.60" y2="789.36" stroke="#111" stroke-width="0.9"/>
<text x="325.30" y="792.06" font-size="7.7" fill="#222" stroke="#222" stroke-width="0.2" text-anchor="end" textLength="8.20" lengthAdjust="spacingAndGlyphs">40</text>
<line x1="328.80" y1="777.94" x2="332.60" y2="777.94" stroke="#111" stroke-width="0.9"/>
<text x="325.30" y="780.64" font-size="7.7" fill="#222" stroke="#222" stroke-width="0.2" text-anchor="end" textLength="8.20" lengthAdjust="spacingAndGlyphs">60</text>
<line x1="328.80" y1="766.52" x2="332.60" y2="766.52" stroke="#111" stroke-width="0.9"/>
<text x="325.30" y="769.22" font-size="7.7" fill="#222" stroke="#222" stroke-width="0.2" text-anchor="end" textLength="8.20" lengthAdjust="spacingAndGlyphs">80</text>
<line x1="328.80" y1="755.10" x2="332.60" y2="755.10" stroke="#111" stroke-width="0.9"/>
<text x="325.30" y="757.80" font-size="7.7" fill="#222" stroke="#222" stroke-width="0.2" text-anchor="end" textLength="12.30" lengthAdjust="spacingAndGlyphs">100</text>
<line x1="340.20" y1="812.20" x2="340.20" y2="815.40" stroke="#111" stroke-width="0.9"/>
<line x1="351.60" y1="812.20" x2="351.60" y2="815.40" stroke="#111" stroke-width="0.9"/>
<line x1="363.20" y1="812.20" x2="363.20" y2="815.40" stroke="#111" stroke-width="0.9"/>
<text transform="translate(306.60,782.15) rotate(-90)" font-size="8.6" fill="#222" stroke="#222" stroke-width="0.2" text-anchor="middle" textLength="28.7" lengthAdjust="spacingAndGlyphs">Viability</text>
<text x="351.60" y="738.00" font-size="6.8" fill="#222" stroke="#222" stroke-width="0.2" text-anchor="middle" textLength="20.75" lengthAdjust="spacingAndGlyphs">#1344</text>
<line x1="339.20" y1="750.80" x2="354.70" y2="750.80" stroke="#222" stroke-width="0.9"/>
<line x1="339.20" y1="749.40" x2="339.20" y2="752.20" stroke="#222" stroke-width="1.1"/>
<line x1="354.70" y1="749.40" x2="354.70" y2="752.20" stroke="#222" stroke-width="1.1"/>
<circle cx="343.05" cy="747.70" r="0.62" fill="#222"/>
<path d="M343.05,746.77 v1.86 M342.24,747.23 l1.61,0.93 M342.24,748.16 l1.61,-0.93" stroke="#222" stroke-width="0.43" fill="none"/>
<circle cx="345.65" cy="747.70" r="0.62" fill="#222"/>
<path d="M345.65,746.77 v1.86 M344.84,747.23 l1.61,0.93 M344.84,748.16 l1.61,-0.93" stroke="#222" stroke-width="0.43" fill="none"/>
<circle cx="348.25" cy="747.70" r="0.62" fill="#222"/>
<path d="M348.25,746.77 v1.86 M347.44,747.23 l1.61,0.93 M347.44,748.16 l1.61,-0.93" stroke="#222" stroke-width="0.43" fill="none"/>
<circle cx="350.85" cy="747.70" r="0.62" fill="#222"/>
<path d="M350.85,746.77 v1.86 M350.04,747.23 l1.61,0.93 M350.04,748.16 l1.61,-0.93" stroke="#222" stroke-width="0.43" fill="none"/>
<line x1="352.50" y1="768.40" x2="367.70" y2="768.40" stroke="#222" stroke-width="0.9"/>
<line x1="352.50" y1="767.00" x2="352.50" y2="769.80" stroke="#222" stroke-width="1.1"/>
<line x1="367.70" y1="767.00" x2="367.70" y2="769.80" stroke="#222" stroke-width="1.1"/>
<circle cx="357.50" cy="765.30" r="0.62" fill="#222"/>
<path d="M357.50,764.37 v1.86 M356.69,764.83 l1.61,0.93 M356.69,765.76 l1.61,-0.93" stroke="#222" stroke-width="0.43" fill="none"/>
<circle cx="360.10" cy="765.30" r="0.62" fill="#222"/>
<path d="M360.10,764.37 v1.86 M359.29,764.83 l1.61,0.93 M359.29,765.76 l1.61,-0.93" stroke="#222" stroke-width="0.43" fill="none"/>
<circle cx="362.70" cy="765.30" r="0.62" fill="#222"/>
<path d="M362.70,764.37 v1.86 M361.89,764.83 l1.61,0.93 M361.89,765.76 l1.61,-0.93" stroke="#222" stroke-width="0.43" fill="none"/>
</svg>
</body></html>
